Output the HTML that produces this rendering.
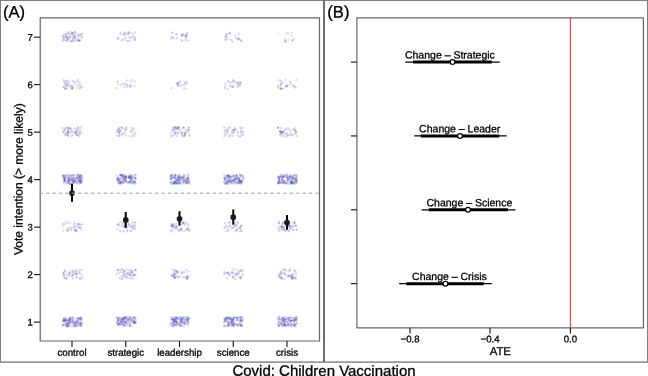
<!DOCTYPE html>
<html><head><meta charset="utf-8"><title>Covid: Children Vaccination</title>
<style>
html,body{margin:0;padding:0;background:#fff;}
body{width:648px;height:376px;overflow:hidden;font-family:"Liberation Sans", sans-serif;}
svg{display:block;filter:blur(0.4px);}
svg text{font-family:"Liberation Sans", sans-serif;fill:#000;stroke:#000;stroke-width:0.3px;}
</style></head><body>
<svg width="648" height="376" viewBox="0 0 648 376">
<rect x="0" y="0" width="648" height="376" fill="#fff"/>

<g fill="#808080">
<rect x="0" y="0" width="648" height="1"/>
<rect x="0" y="0" width="1" height="362"/>
<rect x="647" y="0" width="1" height="362"/>
<rect x="0" y="361.4" width="648" height="1.4"/>
<rect x="323" y="0" width="2" height="362" fill="#6e6e6e"/>
</g>
<text transform="translate(3.0,17.55) rotate(0.1)" font-size="16.6">(A)</text>
<defs><filter id="bl" x="-5%" y="-5%" width="110%" height="110%"><feGaussianBlur stdDeviation="0.6"/></filter></defs>
<g fill="#3838a8" fill-opacity="0.2" filter="url(#bl)">
<circle cx="74.8" cy="38.5" r="1.1"/><circle cx="80.1" cy="35.0" r="1.1"/><circle cx="77.7" cy="40.5" r="1.1"/><circle cx="67.1" cy="38.4" r="1.1"/><circle cx="68.5" cy="33.3" r="1.1"/><circle cx="79.6" cy="40.2" r="1.1"/><circle cx="62.8" cy="41.1" r="1.1"/><circle cx="78.6" cy="40.7" r="1.1"/><circle cx="78.2" cy="37.5" r="1.1"/><circle cx="71.8" cy="33.5" r="1.1"/><circle cx="68.6" cy="33.9" r="1.1"/><circle cx="68.1" cy="41.0" r="1.1"/><circle cx="67.6" cy="37.4" r="1.1"/><circle cx="71.3" cy="33.8" r="1.1"/><circle cx="72.5" cy="40.6" r="1.1"/><circle cx="73.4" cy="38.2" r="1.1"/><circle cx="82.0" cy="37.5" r="1.1"/><circle cx="78.1" cy="35.7" r="1.1"/><circle cx="74.8" cy="36.0" r="1.1"/><circle cx="81.9" cy="34.4" r="1.1"/><circle cx="66.9" cy="32.4" r="1.1"/><circle cx="65.8" cy="40.5" r="1.1"/><circle cx="74.6" cy="36.6" r="1.1"/><circle cx="63.6" cy="37.3" r="1.1"/><circle cx="63.4" cy="35.2" r="1.1"/><circle cx="72.7" cy="39.3" r="1.1"/><circle cx="71.7" cy="32.3" r="1.1"/><circle cx="80.5" cy="35.6" r="1.1"/><circle cx="74.9" cy="32.4" r="1.1"/><circle cx="72.7" cy="33.2" r="1.1"/><circle cx="72.3" cy="41.4" r="1.1"/><circle cx="67.5" cy="38.4" r="1.1"/><circle cx="62.9" cy="36.2" r="1.1"/><circle cx="66.4" cy="37.1" r="1.1"/><circle cx="76.1" cy="40.4" r="1.1"/><circle cx="66.6" cy="35.4" r="1.1"/><circle cx="69.9" cy="37.7" r="1.1"/><circle cx="62.8" cy="38.6" r="1.1"/><circle cx="78.8" cy="35.5" r="1.1"/><circle cx="65.7" cy="37.1" r="1.1"/><circle cx="67.9" cy="39.4" r="1.1"/><circle cx="79.8" cy="40.8" r="1.1"/><circle cx="72.6" cy="33.5" r="1.1"/><circle cx="79.1" cy="41.0" r="1.1"/><circle cx="75.1" cy="32.1" r="1.1"/><circle cx="77.1" cy="39.3" r="1.1"/><circle cx="64.5" cy="39.8" r="1.1"/><circle cx="73.2" cy="33.4" r="1.1"/><circle cx="72.6" cy="36.1" r="1.1"/><circle cx="79.6" cy="39.9" r="1.1"/><circle cx="69.7" cy="32.2" r="1.1"/><circle cx="74.3" cy="38.1" r="1.1"/><circle cx="63.8" cy="39.7" r="1.1"/><circle cx="70.2" cy="37.0" r="1.1"/><circle cx="69.0" cy="39.0" r="1.1"/><circle cx="65.6" cy="34.2" r="1.1"/><circle cx="78.5" cy="34.0" r="1.1"/><circle cx="70.1" cy="35.6" r="1.1"/><circle cx="81.7" cy="33.8" r="1.1"/><circle cx="74.1" cy="35.4" r="1.1"/><circle cx="74.4" cy="41.2" r="1.1"/><circle cx="75.1" cy="37.6" r="1.1"/><circle cx="75.8" cy="35.3" r="1.1"/><circle cx="65.6" cy="34.7" r="1.1"/><circle cx="71.2" cy="41.2" r="1.1"/><circle cx="67.3" cy="36.3" r="1.1"/><circle cx="70.5" cy="41.5" r="1.1"/><circle cx="64.6" cy="37.0" r="1.1"/><circle cx="81.5" cy="37.1" r="1.1"/><circle cx="66.9" cy="40.7" r="1.1"/><circle cx="130.9" cy="38.2" r="1.1"/><circle cx="127.7" cy="33.8" r="1.1"/><circle cx="124.7" cy="32.7" r="1.1"/><circle cx="133.5" cy="36.0" r="1.1"/><circle cx="124.4" cy="39.4" r="1.1"/><circle cx="134.4" cy="39.9" r="1.1"/><circle cx="117.8" cy="39.1" r="1.1"/><circle cx="124.8" cy="33.2" r="1.1"/><circle cx="126.5" cy="40.8" r="1.1"/><circle cx="134.9" cy="39.8" r="1.1"/><circle cx="121.3" cy="40.5" r="1.1"/><circle cx="132.1" cy="37.1" r="1.1"/><circle cx="129.6" cy="40.9" r="1.1"/><circle cx="130.4" cy="32.5" r="1.1"/><circle cx="128.7" cy="32.4" r="1.1"/><circle cx="135.3" cy="32.3" r="1.1"/><circle cx="122.9" cy="34.5" r="1.1"/><circle cx="124.2" cy="34.5" r="1.1"/><circle cx="120.4" cy="33.9" r="1.1"/><circle cx="117.4" cy="37.5" r="1.1"/><circle cx="120.6" cy="32.4" r="1.1"/><circle cx="134.2" cy="37.7" r="1.1"/><circle cx="132.7" cy="33.7" r="1.1"/><circle cx="118.6" cy="38.6" r="1.1"/><circle cx="128.2" cy="32.3" r="1.1"/><circle cx="125.7" cy="35.0" r="1.1"/><circle cx="128.0" cy="41.1" r="1.1"/><circle cx="129.2" cy="37.2" r="1.1"/><circle cx="122.4" cy="39.9" r="1.1"/><circle cx="135.1" cy="38.4" r="1.1"/><circle cx="125.5" cy="37.9" r="1.1"/><circle cx="128.6" cy="33.9" r="1.1"/><circle cx="181.3" cy="35.2" r="1.1"/><circle cx="171.0" cy="39.0" r="1.1"/><circle cx="185.8" cy="40.4" r="1.1"/><circle cx="188.8" cy="40.6" r="1.1"/><circle cx="186.8" cy="33.6" r="1.1"/><circle cx="171.2" cy="32.3" r="1.1"/><circle cx="176.8" cy="38.3" r="1.1"/><circle cx="176.4" cy="34.1" r="1.1"/><circle cx="172.4" cy="37.5" r="1.1"/><circle cx="182.4" cy="41.1" r="1.1"/><circle cx="185.7" cy="35.7" r="1.1"/><circle cx="176.3" cy="34.5" r="1.1"/><circle cx="186.9" cy="36.5" r="1.1"/><circle cx="185.7" cy="38.4" r="1.1"/><circle cx="172.7" cy="33.0" r="1.1"/><circle cx="185.1" cy="35.7" r="1.1"/><circle cx="187.3" cy="33.4" r="1.1"/><circle cx="174.0" cy="38.4" r="1.1"/><circle cx="181.3" cy="40.0" r="1.1"/><circle cx="182.6" cy="35.7" r="1.1"/><circle cx="182.0" cy="35.6" r="1.1"/><circle cx="172.1" cy="37.2" r="1.1"/><circle cx="183.0" cy="34.1" r="1.1"/><circle cx="182.5" cy="34.4" r="1.1"/><circle cx="186.2" cy="35.2" r="1.1"/><circle cx="185.8" cy="36.5" r="1.1"/><circle cx="225.5" cy="40.0" r="1.1"/><circle cx="238.6" cy="38.5" r="1.1"/><circle cx="235.2" cy="35.6" r="1.1"/><circle cx="229.8" cy="32.7" r="1.1"/><circle cx="225.5" cy="37.0" r="1.1"/><circle cx="238.8" cy="39.3" r="1.1"/><circle cx="226.5" cy="33.9" r="1.1"/><circle cx="226.5" cy="34.6" r="1.1"/><circle cx="226.5" cy="37.2" r="1.1"/><circle cx="225.5" cy="39.3" r="1.1"/><circle cx="241.5" cy="40.7" r="1.1"/><circle cx="229.2" cy="33.3" r="1.1"/><circle cx="229.9" cy="33.8" r="1.1"/><circle cx="240.1" cy="39.7" r="1.1"/><circle cx="236.0" cy="38.3" r="1.1"/><circle cx="227.6" cy="39.0" r="1.1"/><circle cx="232.4" cy="41.6" r="1.1"/><circle cx="241.1" cy="41.1" r="1.1"/><circle cx="231.2" cy="40.2" r="1.1"/><circle cx="237.7" cy="39.5" r="1.1"/><circle cx="225.8" cy="35.9" r="1.1"/><circle cx="238.1" cy="38.2" r="1.1"/><circle cx="239.0" cy="33.8" r="1.1"/><circle cx="292.4" cy="40.0" r="1.1"/><circle cx="292.4" cy="40.9" r="1.1"/><circle cx="291.7" cy="35.8" r="1.1"/><circle cx="286.3" cy="33.4" r="1.1"/><circle cx="285.0" cy="39.4" r="1.1"/><circle cx="285.8" cy="41.6" r="1.1"/><circle cx="278.3" cy="33.5" r="1.1"/><circle cx="294.1" cy="38.9" r="1.1"/><circle cx="288.2" cy="40.0" r="1.1"/><circle cx="285.2" cy="40.9" r="1.1"/><circle cx="288.3" cy="33.3" r="1.1"/><circle cx="291.7" cy="32.9" r="1.1"/><circle cx="285.1" cy="41.6" r="1.1"/><circle cx="65.0" cy="89.0" r="1.1"/><circle cx="66.1" cy="88.6" r="1.1"/><circle cx="73.9" cy="81.8" r="1.1"/><circle cx="71.4" cy="88.9" r="1.1"/><circle cx="77.3" cy="81.6" r="1.1"/><circle cx="66.4" cy="84.4" r="1.1"/><circle cx="80.4" cy="84.3" r="1.1"/><circle cx="66.9" cy="88.3" r="1.1"/><circle cx="77.6" cy="79.9" r="1.1"/><circle cx="64.0" cy="82.6" r="1.1"/><circle cx="71.9" cy="85.3" r="1.1"/><circle cx="63.3" cy="80.2" r="1.1"/><circle cx="68.8" cy="81.8" r="1.1"/><circle cx="68.8" cy="84.0" r="1.1"/><circle cx="76.7" cy="88.0" r="1.1"/><circle cx="71.5" cy="86.9" r="1.1"/><circle cx="63.8" cy="87.5" r="1.1"/><circle cx="82.0" cy="86.9" r="1.1"/><circle cx="79.9" cy="86.3" r="1.1"/><circle cx="80.5" cy="87.7" r="1.1"/><circle cx="67.5" cy="86.1" r="1.1"/><circle cx="70.3" cy="86.6" r="1.1"/><circle cx="67.1" cy="82.5" r="1.1"/><circle cx="65.1" cy="81.2" r="1.1"/><circle cx="63.3" cy="86.8" r="1.1"/><circle cx="72.5" cy="81.1" r="1.1"/><circle cx="65.1" cy="88.4" r="1.1"/><circle cx="66.1" cy="85.3" r="1.1"/><circle cx="79.4" cy="82.7" r="1.1"/><circle cx="72.1" cy="88.5" r="1.1"/><circle cx="66.3" cy="81.0" r="1.1"/><circle cx="75.7" cy="84.5" r="1.1"/><circle cx="67.9" cy="80.4" r="1.1"/><circle cx="72.9" cy="88.8" r="1.1"/><circle cx="68.2" cy="85.1" r="1.1"/><circle cx="72.7" cy="87.3" r="1.1"/><circle cx="74.9" cy="82.3" r="1.1"/><circle cx="73.1" cy="87.3" r="1.1"/><circle cx="70.4" cy="86.3" r="1.1"/><circle cx="78.0" cy="85.7" r="1.1"/><circle cx="79.6" cy="88.7" r="1.1"/><circle cx="66.2" cy="83.7" r="1.1"/><circle cx="65.3" cy="83.5" r="1.1"/><circle cx="64.9" cy="86.2" r="1.1"/><circle cx="132.7" cy="79.9" r="1.1"/><circle cx="123.0" cy="83.9" r="1.1"/><circle cx="129.4" cy="85.6" r="1.1"/><circle cx="120.5" cy="84.8" r="1.1"/><circle cx="127.2" cy="80.3" r="1.1"/><circle cx="131.4" cy="85.2" r="1.1"/><circle cx="117.7" cy="81.7" r="1.1"/><circle cx="130.6" cy="81.4" r="1.1"/><circle cx="116.7" cy="88.0" r="1.1"/><circle cx="135.0" cy="81.5" r="1.1"/><circle cx="125.5" cy="83.9" r="1.1"/><circle cx="124.4" cy="86.8" r="1.1"/><circle cx="130.4" cy="86.3" r="1.1"/><circle cx="126.6" cy="84.9" r="1.1"/><circle cx="130.6" cy="87.3" r="1.1"/><circle cx="118.1" cy="84.0" r="1.1"/><circle cx="127.4" cy="85.5" r="1.1"/><circle cx="127.3" cy="87.4" r="1.1"/><circle cx="134.5" cy="86.1" r="1.1"/><circle cx="182.7" cy="85.1" r="1.1"/><circle cx="178.1" cy="84.9" r="1.1"/><circle cx="181.0" cy="85.9" r="1.1"/><circle cx="177.9" cy="86.1" r="1.1"/><circle cx="184.6" cy="85.2" r="1.1"/><circle cx="177.6" cy="83.6" r="1.1"/><circle cx="179.3" cy="81.3" r="1.1"/><circle cx="184.9" cy="82.4" r="1.1"/><circle cx="180.0" cy="82.4" r="1.1"/><circle cx="176.8" cy="83.7" r="1.1"/><circle cx="186.2" cy="89.1" r="1.1"/><circle cx="177.6" cy="82.9" r="1.1"/><circle cx="186.6" cy="83.8" r="1.1"/><circle cx="185.4" cy="83.1" r="1.1"/><circle cx="178.9" cy="85.1" r="1.1"/><circle cx="184.0" cy="88.7" r="1.1"/><circle cx="170.9" cy="88.1" r="1.1"/><circle cx="177.8" cy="83.2" r="1.1"/><circle cx="186.9" cy="82.1" r="1.1"/><circle cx="241.1" cy="83.2" r="1.1"/><circle cx="233.5" cy="85.7" r="1.1"/><circle cx="237.2" cy="82.0" r="1.1"/><circle cx="225.4" cy="84.1" r="1.1"/><circle cx="240.8" cy="84.6" r="1.1"/><circle cx="230.0" cy="85.6" r="1.1"/><circle cx="233.5" cy="81.5" r="1.1"/><circle cx="227.8" cy="88.8" r="1.1"/><circle cx="232.1" cy="82.3" r="1.1"/><circle cx="240.0" cy="82.5" r="1.1"/><circle cx="240.0" cy="82.0" r="1.1"/><circle cx="233.1" cy="80.2" r="1.1"/><circle cx="238.8" cy="83.6" r="1.1"/><circle cx="232.8" cy="87.0" r="1.1"/><circle cx="231.2" cy="86.4" r="1.1"/><circle cx="234.5" cy="81.4" r="1.1"/><circle cx="227.9" cy="80.9" r="1.1"/><circle cx="230.1" cy="82.6" r="1.1"/><circle cx="237.7" cy="86.9" r="1.1"/><circle cx="238.9" cy="84.2" r="1.1"/><circle cx="225.1" cy="88.4" r="1.1"/><circle cx="238.2" cy="85.9" r="1.1"/><circle cx="239.8" cy="85.5" r="1.1"/><circle cx="232.6" cy="86.9" r="1.1"/><circle cx="225.2" cy="86.8" r="1.1"/><circle cx="237.2" cy="82.9" r="1.1"/><circle cx="228.7" cy="82.0" r="1.1"/><circle cx="236.4" cy="83.8" r="1.1"/><circle cx="287.2" cy="85.9" r="1.1"/><circle cx="280.4" cy="85.3" r="1.1"/><circle cx="286.3" cy="87.0" r="1.1"/><circle cx="290.1" cy="81.6" r="1.1"/><circle cx="280.3" cy="88.7" r="1.1"/><circle cx="280.4" cy="88.1" r="1.1"/><circle cx="281.1" cy="80.7" r="1.1"/><circle cx="283.2" cy="82.6" r="1.1"/><circle cx="296.4" cy="79.9" r="1.1"/><circle cx="278.2" cy="87.5" r="1.1"/><circle cx="281.3" cy="88.3" r="1.1"/><circle cx="280.9" cy="89.1" r="1.1"/><circle cx="286.9" cy="85.4" r="1.1"/><circle cx="278.0" cy="85.9" r="1.1"/><circle cx="286.6" cy="86.1" r="1.1"/><circle cx="280.9" cy="85.0" r="1.1"/><circle cx="282.9" cy="88.7" r="1.1"/><circle cx="293.1" cy="85.4" r="1.1"/><circle cx="281.3" cy="82.8" r="1.1"/><circle cx="289.7" cy="84.5" r="1.1"/><circle cx="285.6" cy="79.7" r="1.1"/><circle cx="285.8" cy="86.5" r="1.1"/><circle cx="293.5" cy="86.2" r="1.1"/><circle cx="280.8" cy="83.6" r="1.1"/><circle cx="295.6" cy="87.7" r="1.1"/><circle cx="295.0" cy="86.8" r="1.1"/><circle cx="290.7" cy="82.8" r="1.1"/><circle cx="278.7" cy="80.3" r="1.1"/><circle cx="65.3" cy="128.7" r="1.1"/><circle cx="66.3" cy="127.6" r="1.1"/><circle cx="68.6" cy="131.5" r="1.1"/><circle cx="71.4" cy="129.1" r="1.1"/><circle cx="80.7" cy="134.1" r="1.1"/><circle cx="68.1" cy="135.9" r="1.1"/><circle cx="80.1" cy="129.7" r="1.1"/><circle cx="75.9" cy="132.5" r="1.1"/><circle cx="79.3" cy="131.9" r="1.1"/><circle cx="70.5" cy="127.8" r="1.1"/><circle cx="62.8" cy="128.2" r="1.1"/><circle cx="78.0" cy="135.5" r="1.1"/><circle cx="67.5" cy="131.6" r="1.1"/><circle cx="65.5" cy="134.8" r="1.1"/><circle cx="78.2" cy="127.7" r="1.1"/><circle cx="76.0" cy="132.8" r="1.1"/><circle cx="66.8" cy="135.3" r="1.1"/><circle cx="67.9" cy="135.4" r="1.1"/><circle cx="80.9" cy="127.1" r="1.1"/><circle cx="67.9" cy="132.1" r="1.1"/><circle cx="76.3" cy="130.6" r="1.1"/><circle cx="65.2" cy="134.3" r="1.1"/><circle cx="78.5" cy="127.7" r="1.1"/><circle cx="65.0" cy="129.6" r="1.1"/><circle cx="72.7" cy="134.8" r="1.1"/><circle cx="63.4" cy="131.5" r="1.1"/><circle cx="73.4" cy="131.4" r="1.1"/><circle cx="79.1" cy="136.3" r="1.1"/><circle cx="64.3" cy="130.1" r="1.1"/><circle cx="68.0" cy="127.4" r="1.1"/><circle cx="77.5" cy="130.8" r="1.1"/><circle cx="74.5" cy="128.5" r="1.1"/><circle cx="68.8" cy="127.8" r="1.1"/><circle cx="74.9" cy="132.5" r="1.1"/><circle cx="71.5" cy="136.2" r="1.1"/><circle cx="79.4" cy="132.6" r="1.1"/><circle cx="68.4" cy="133.3" r="1.1"/><circle cx="77.4" cy="130.1" r="1.1"/><circle cx="75.0" cy="132.5" r="1.1"/><circle cx="77.1" cy="134.3" r="1.1"/><circle cx="70.0" cy="132.7" r="1.1"/><circle cx="76.8" cy="134.7" r="1.1"/><circle cx="76.2" cy="132.3" r="1.1"/><circle cx="70.2" cy="128.9" r="1.1"/><circle cx="63.2" cy="132.6" r="1.1"/><circle cx="81.4" cy="131.8" r="1.1"/><circle cx="76.5" cy="128.6" r="1.1"/><circle cx="66.7" cy="133.0" r="1.1"/><circle cx="76.9" cy="134.9" r="1.1"/><circle cx="68.1" cy="128.3" r="1.1"/><circle cx="71.8" cy="132.3" r="1.1"/><circle cx="79.4" cy="134.1" r="1.1"/><circle cx="71.4" cy="130.9" r="1.1"/><circle cx="68.3" cy="129.6" r="1.1"/><circle cx="68.6" cy="130.6" r="1.1"/><circle cx="64.2" cy="132.2" r="1.1"/><circle cx="67.0" cy="133.6" r="1.1"/><circle cx="68.0" cy="132.4" r="1.1"/><circle cx="118.5" cy="131.5" r="1.1"/><circle cx="132.3" cy="130.5" r="1.1"/><circle cx="134.4" cy="132.7" r="1.1"/><circle cx="118.4" cy="129.7" r="1.1"/><circle cx="121.3" cy="127.4" r="1.1"/><circle cx="119.8" cy="130.2" r="1.1"/><circle cx="132.9" cy="134.3" r="1.1"/><circle cx="134.1" cy="129.5" r="1.1"/><circle cx="117.3" cy="130.9" r="1.1"/><circle cx="122.9" cy="134.3" r="1.1"/><circle cx="120.2" cy="130.9" r="1.1"/><circle cx="125.6" cy="135.6" r="1.1"/><circle cx="134.3" cy="135.9" r="1.1"/><circle cx="117.8" cy="130.0" r="1.1"/><circle cx="119.8" cy="134.1" r="1.1"/><circle cx="125.9" cy="129.5" r="1.1"/><circle cx="126.6" cy="128.4" r="1.1"/><circle cx="130.9" cy="131.2" r="1.1"/><circle cx="124.9" cy="132.8" r="1.1"/><circle cx="119.2" cy="136.0" r="1.1"/><circle cx="123.3" cy="128.4" r="1.1"/><circle cx="135.5" cy="133.9" r="1.1"/><circle cx="131.0" cy="131.6" r="1.1"/><circle cx="118.7" cy="128.3" r="1.1"/><circle cx="132.1" cy="136.4" r="1.1"/><circle cx="122.5" cy="133.7" r="1.1"/><circle cx="131.6" cy="128.3" r="1.1"/><circle cx="116.7" cy="135.7" r="1.1"/><circle cx="133.4" cy="128.0" r="1.1"/><circle cx="119.6" cy="127.9" r="1.1"/><circle cx="125.3" cy="130.2" r="1.1"/><circle cx="129.3" cy="136.0" r="1.1"/><circle cx="126.3" cy="127.4" r="1.1"/><circle cx="119.7" cy="135.9" r="1.1"/><circle cx="119.1" cy="132.9" r="1.1"/><circle cx="122.0" cy="127.7" r="1.1"/><circle cx="117.5" cy="132.5" r="1.1"/><circle cx="120.7" cy="131.4" r="1.1"/><circle cx="119.0" cy="132.5" r="1.1"/><circle cx="184.5" cy="132.9" r="1.1"/><circle cx="183.4" cy="136.6" r="1.1"/><circle cx="189.5" cy="136.2" r="1.1"/><circle cx="173.2" cy="127.4" r="1.1"/><circle cx="186.0" cy="132.0" r="1.1"/><circle cx="178.2" cy="132.8" r="1.1"/><circle cx="185.4" cy="133.8" r="1.1"/><circle cx="187.5" cy="130.3" r="1.1"/><circle cx="189.4" cy="130.2" r="1.1"/><circle cx="175.4" cy="127.1" r="1.1"/><circle cx="179.0" cy="127.4" r="1.1"/><circle cx="188.5" cy="132.3" r="1.1"/><circle cx="188.5" cy="127.8" r="1.1"/><circle cx="177.4" cy="129.0" r="1.1"/><circle cx="188.4" cy="130.2" r="1.1"/><circle cx="178.1" cy="127.7" r="1.1"/><circle cx="177.5" cy="127.3" r="1.1"/><circle cx="184.9" cy="135.9" r="1.1"/><circle cx="179.3" cy="131.2" r="1.1"/><circle cx="178.9" cy="129.0" r="1.1"/><circle cx="177.7" cy="133.8" r="1.1"/><circle cx="178.6" cy="127.1" r="1.1"/><circle cx="172.9" cy="129.4" r="1.1"/><circle cx="171.4" cy="136.3" r="1.1"/><circle cx="184.8" cy="135.7" r="1.1"/><circle cx="181.2" cy="133.1" r="1.1"/><circle cx="183.2" cy="127.9" r="1.1"/><circle cx="185.8" cy="130.1" r="1.1"/><circle cx="174.7" cy="127.3" r="1.1"/><circle cx="174.7" cy="129.1" r="1.1"/><circle cx="175.6" cy="127.3" r="1.1"/><circle cx="176.1" cy="128.3" r="1.1"/><circle cx="185.0" cy="133.1" r="1.1"/><circle cx="177.5" cy="128.0" r="1.1"/><circle cx="176.5" cy="128.5" r="1.1"/><circle cx="182.5" cy="135.7" r="1.1"/><circle cx="173.8" cy="130.3" r="1.1"/><circle cx="172.3" cy="130.2" r="1.1"/><circle cx="183.7" cy="127.9" r="1.1"/><circle cx="184.9" cy="134.7" r="1.1"/><circle cx="175.9" cy="133.5" r="1.1"/><circle cx="182.5" cy="132.3" r="1.1"/><circle cx="170.9" cy="133.0" r="1.1"/><circle cx="178.0" cy="128.0" r="1.1"/><circle cx="181.4" cy="129.5" r="1.1"/><circle cx="175.1" cy="132.6" r="1.1"/><circle cx="177.0" cy="136.2" r="1.1"/><circle cx="182.0" cy="134.9" r="1.1"/><circle cx="181.6" cy="133.2" r="1.1"/><circle cx="173.2" cy="132.0" r="1.1"/><circle cx="183.9" cy="127.2" r="1.1"/><circle cx="171.8" cy="135.6" r="1.1"/><circle cx="189.0" cy="127.7" r="1.1"/><circle cx="174.1" cy="128.3" r="1.1"/><circle cx="175.1" cy="133.7" r="1.1"/><circle cx="174.1" cy="134.8" r="1.1"/><circle cx="189.4" cy="134.6" r="1.1"/><circle cx="175.8" cy="131.4" r="1.1"/><circle cx="227.4" cy="128.9" r="1.1"/><circle cx="224.6" cy="131.6" r="1.1"/><circle cx="240.5" cy="136.4" r="1.1"/><circle cx="242.9" cy="132.2" r="1.1"/><circle cx="228.7" cy="127.6" r="1.1"/><circle cx="240.8" cy="131.2" r="1.1"/><circle cx="231.8" cy="133.4" r="1.1"/><circle cx="230.0" cy="127.6" r="1.1"/><circle cx="233.7" cy="129.5" r="1.1"/><circle cx="224.1" cy="127.2" r="1.1"/><circle cx="232.5" cy="132.2" r="1.1"/><circle cx="227.8" cy="130.7" r="1.1"/><circle cx="237.8" cy="131.9" r="1.1"/><circle cx="233.7" cy="129.9" r="1.1"/><circle cx="240.8" cy="133.3" r="1.1"/><circle cx="241.3" cy="128.7" r="1.1"/><circle cx="230.1" cy="135.7" r="1.1"/><circle cx="229.4" cy="136.3" r="1.1"/><circle cx="242.2" cy="131.8" r="1.1"/><circle cx="233.7" cy="131.5" r="1.1"/><circle cx="225.8" cy="135.3" r="1.1"/><circle cx="224.8" cy="129.8" r="1.1"/><circle cx="243.2" cy="134.8" r="1.1"/><circle cx="235.2" cy="129.8" r="1.1"/><circle cx="225.0" cy="134.0" r="1.1"/><circle cx="233.9" cy="130.2" r="1.1"/><circle cx="233.7" cy="132.8" r="1.1"/><circle cx="232.4" cy="135.9" r="1.1"/><circle cx="242.4" cy="127.6" r="1.1"/><circle cx="242.4" cy="134.8" r="1.1"/><circle cx="226.4" cy="132.2" r="1.1"/><circle cx="226.9" cy="130.7" r="1.1"/><circle cx="231.9" cy="130.4" r="1.1"/><circle cx="240.1" cy="127.7" r="1.1"/><circle cx="236.1" cy="129.5" r="1.1"/><circle cx="238.1" cy="133.0" r="1.1"/><circle cx="235.1" cy="128.0" r="1.1"/><circle cx="228.0" cy="133.5" r="1.1"/><circle cx="239.8" cy="136.3" r="1.1"/><circle cx="224.2" cy="136.5" r="1.1"/><circle cx="237.5" cy="135.6" r="1.1"/><circle cx="293.3" cy="129.1" r="1.1"/><circle cx="281.2" cy="127.9" r="1.1"/><circle cx="296.5" cy="131.6" r="1.1"/><circle cx="281.6" cy="132.7" r="1.1"/><circle cx="294.6" cy="130.1" r="1.1"/><circle cx="294.7" cy="128.1" r="1.1"/><circle cx="289.8" cy="134.8" r="1.1"/><circle cx="287.8" cy="134.8" r="1.1"/><circle cx="281.6" cy="132.4" r="1.1"/><circle cx="287.8" cy="128.4" r="1.1"/><circle cx="283.3" cy="132.2" r="1.1"/><circle cx="280.1" cy="133.1" r="1.1"/><circle cx="280.2" cy="131.2" r="1.1"/><circle cx="293.2" cy="135.3" r="1.1"/><circle cx="295.6" cy="130.8" r="1.1"/><circle cx="280.5" cy="131.9" r="1.1"/><circle cx="278.0" cy="128.1" r="1.1"/><circle cx="282.8" cy="132.5" r="1.1"/><circle cx="280.3" cy="134.4" r="1.1"/><circle cx="281.4" cy="134.1" r="1.1"/><circle cx="289.0" cy="129.5" r="1.1"/><circle cx="285.9" cy="136.6" r="1.1"/><circle cx="286.0" cy="134.0" r="1.1"/><circle cx="281.7" cy="131.1" r="1.1"/><circle cx="290.6" cy="131.0" r="1.1"/><circle cx="283.3" cy="134.5" r="1.1"/><circle cx="285.4" cy="128.7" r="1.1"/><circle cx="286.7" cy="133.2" r="1.1"/><circle cx="295.2" cy="133.9" r="1.1"/><circle cx="282.5" cy="132.0" r="1.1"/><circle cx="291.6" cy="135.4" r="1.1"/><circle cx="283.7" cy="131.5" r="1.1"/><circle cx="295.1" cy="131.5" r="1.1"/><circle cx="285.3" cy="129.8" r="1.1"/><circle cx="287.5" cy="135.9" r="1.1"/><circle cx="294.7" cy="130.1" r="1.1"/><circle cx="290.8" cy="133.7" r="1.1"/><circle cx="279.5" cy="131.0" r="1.1"/><circle cx="280.4" cy="136.0" r="1.1"/><circle cx="296.9" cy="136.1" r="1.1"/><circle cx="278.3" cy="127.3" r="1.1"/><circle cx="283.5" cy="136.6" r="1.1"/><circle cx="296.3" cy="132.8" r="1.1"/><circle cx="278.0" cy="127.8" r="1.1"/><circle cx="280.8" cy="131.8" r="1.1"/><circle cx="63.7" cy="177.7" r="1.1"/><circle cx="73.3" cy="175.7" r="1.1"/><circle cx="66.3" cy="183.3" r="1.1"/><circle cx="69.8" cy="176.3" r="1.1"/><circle cx="68.6" cy="174.6" r="1.1"/><circle cx="74.4" cy="183.1" r="1.1"/><circle cx="78.7" cy="180.3" r="1.1"/><circle cx="80.9" cy="181.0" r="1.1"/><circle cx="69.1" cy="181.6" r="1.1"/><circle cx="73.8" cy="174.9" r="1.1"/><circle cx="62.8" cy="175.4" r="1.1"/><circle cx="69.9" cy="179.3" r="1.1"/><circle cx="81.3" cy="175.0" r="1.1"/><circle cx="65.0" cy="179.4" r="1.1"/><circle cx="79.6" cy="181.6" r="1.1"/><circle cx="75.4" cy="180.8" r="1.1"/><circle cx="68.4" cy="180.4" r="1.1"/><circle cx="77.8" cy="175.0" r="1.1"/><circle cx="68.3" cy="176.8" r="1.1"/><circle cx="80.1" cy="183.1" r="1.1"/><circle cx="64.3" cy="175.7" r="1.1"/><circle cx="65.0" cy="179.6" r="1.1"/><circle cx="77.3" cy="175.0" r="1.1"/><circle cx="71.4" cy="183.5" r="1.1"/><circle cx="65.6" cy="176.2" r="1.1"/><circle cx="72.7" cy="178.5" r="1.1"/><circle cx="68.5" cy="179.8" r="1.1"/><circle cx="73.4" cy="181.4" r="1.1"/><circle cx="77.1" cy="183.5" r="1.1"/><circle cx="79.3" cy="181.6" r="1.1"/><circle cx="63.8" cy="177.9" r="1.1"/><circle cx="74.2" cy="175.3" r="1.1"/><circle cx="81.8" cy="181.3" r="1.1"/><circle cx="71.6" cy="183.9" r="1.1"/><circle cx="77.6" cy="174.7" r="1.1"/><circle cx="64.6" cy="182.0" r="1.1"/><circle cx="79.6" cy="176.2" r="1.1"/><circle cx="74.0" cy="178.9" r="1.1"/><circle cx="79.9" cy="179.5" r="1.1"/><circle cx="78.0" cy="180.4" r="1.1"/><circle cx="79.6" cy="184.0" r="1.1"/><circle cx="63.8" cy="181.1" r="1.1"/><circle cx="76.6" cy="178.3" r="1.1"/><circle cx="66.5" cy="181.4" r="1.1"/><circle cx="67.9" cy="179.0" r="1.1"/><circle cx="69.0" cy="178.5" r="1.1"/><circle cx="74.2" cy="178.0" r="1.1"/><circle cx="74.9" cy="179.3" r="1.1"/><circle cx="80.8" cy="177.2" r="1.1"/><circle cx="62.9" cy="176.9" r="1.1"/><circle cx="66.5" cy="176.0" r="1.1"/><circle cx="69.7" cy="178.8" r="1.1"/><circle cx="78.6" cy="177.3" r="1.1"/><circle cx="73.4" cy="182.6" r="1.1"/><circle cx="72.6" cy="182.7" r="1.1"/><circle cx="77.4" cy="177.8" r="1.1"/><circle cx="75.4" cy="180.5" r="1.1"/><circle cx="68.3" cy="183.2" r="1.1"/><circle cx="64.4" cy="178.0" r="1.1"/><circle cx="71.7" cy="179.9" r="1.1"/><circle cx="79.8" cy="178.8" r="1.1"/><circle cx="74.3" cy="180.8" r="1.1"/><circle cx="63.7" cy="183.7" r="1.1"/><circle cx="71.2" cy="175.9" r="1.1"/><circle cx="70.2" cy="183.8" r="1.1"/><circle cx="74.0" cy="180.9" r="1.1"/><circle cx="74.1" cy="182.2" r="1.1"/><circle cx="81.2" cy="180.6" r="1.1"/><circle cx="69.3" cy="182.9" r="1.1"/><circle cx="70.6" cy="177.7" r="1.1"/><circle cx="74.6" cy="181.3" r="1.1"/><circle cx="79.9" cy="177.1" r="1.1"/><circle cx="76.4" cy="179.4" r="1.1"/><circle cx="71.8" cy="181.1" r="1.1"/><circle cx="78.5" cy="176.5" r="1.1"/><circle cx="72.1" cy="175.1" r="1.1"/><circle cx="81.4" cy="182.1" r="1.1"/><circle cx="68.2" cy="182.3" r="1.1"/><circle cx="65.2" cy="180.9" r="1.1"/><circle cx="78.8" cy="177.6" r="1.1"/><circle cx="68.5" cy="180.8" r="1.1"/><circle cx="79.1" cy="175.3" r="1.1"/><circle cx="74.5" cy="180.9" r="1.1"/><circle cx="72.6" cy="180.1" r="1.1"/><circle cx="64.4" cy="180.5" r="1.1"/><circle cx="78.0" cy="178.8" r="1.1"/><circle cx="64.0" cy="176.7" r="1.1"/><circle cx="81.4" cy="181.5" r="1.1"/><circle cx="79.7" cy="179.0" r="1.1"/><circle cx="68.6" cy="181.7" r="1.1"/><circle cx="65.2" cy="178.0" r="1.1"/><circle cx="79.9" cy="175.4" r="1.1"/><circle cx="72.0" cy="179.7" r="1.1"/><circle cx="65.1" cy="180.5" r="1.1"/><circle cx="72.4" cy="183.4" r="1.1"/><circle cx="67.5" cy="183.1" r="1.1"/><circle cx="70.6" cy="175.1" r="1.1"/><circle cx="75.1" cy="181.9" r="1.1"/><circle cx="80.5" cy="177.0" r="1.1"/><circle cx="78.2" cy="181.2" r="1.1"/><circle cx="65.8" cy="178.2" r="1.1"/><circle cx="72.0" cy="177.6" r="1.1"/><circle cx="72.2" cy="179.2" r="1.1"/><circle cx="81.9" cy="179.6" r="1.1"/><circle cx="64.4" cy="181.2" r="1.1"/><circle cx="72.6" cy="180.7" r="1.1"/><circle cx="80.4" cy="181.0" r="1.1"/><circle cx="70.4" cy="178.2" r="1.1"/><circle cx="67.8" cy="181.0" r="1.1"/><circle cx="73.5" cy="177.8" r="1.1"/><circle cx="68.9" cy="180.4" r="1.1"/><circle cx="80.7" cy="178.9" r="1.1"/><circle cx="64.3" cy="179.9" r="1.1"/><circle cx="66.7" cy="174.7" r="1.1"/><circle cx="64.3" cy="179.3" r="1.1"/><circle cx="76.5" cy="176.6" r="1.1"/><circle cx="68.4" cy="178.2" r="1.1"/><circle cx="80.2" cy="175.2" r="1.1"/><circle cx="80.0" cy="180.8" r="1.1"/><circle cx="80.9" cy="183.1" r="1.1"/><circle cx="67.7" cy="177.9" r="1.1"/><circle cx="62.7" cy="175.5" r="1.1"/><circle cx="70.2" cy="180.5" r="1.1"/><circle cx="81.4" cy="175.7" r="1.1"/><circle cx="77.5" cy="183.1" r="1.1"/><circle cx="63.9" cy="175.7" r="1.1"/><circle cx="76.3" cy="178.0" r="1.1"/><circle cx="80.5" cy="179.3" r="1.1"/><circle cx="81.5" cy="175.7" r="1.1"/><circle cx="76.6" cy="177.6" r="1.1"/><circle cx="79.4" cy="177.2" r="1.1"/><circle cx="79.0" cy="181.4" r="1.1"/><circle cx="69.7" cy="184.0" r="1.1"/><circle cx="64.6" cy="178.0" r="1.1"/><circle cx="76.8" cy="182.1" r="1.1"/><circle cx="65.4" cy="175.9" r="1.1"/><circle cx="70.2" cy="180.1" r="1.1"/><circle cx="82.0" cy="178.7" r="1.1"/><circle cx="73.6" cy="177.3" r="1.1"/><circle cx="72.8" cy="182.4" r="1.1"/><circle cx="81.1" cy="181.7" r="1.1"/><circle cx="68.2" cy="175.8" r="1.1"/><circle cx="82.1" cy="177.3" r="1.1"/><circle cx="80.4" cy="182.4" r="1.1"/><circle cx="69.8" cy="184.1" r="1.1"/><circle cx="128.3" cy="177.4" r="1.1"/><circle cx="133.4" cy="182.2" r="1.1"/><circle cx="135.5" cy="183.4" r="1.1"/><circle cx="130.8" cy="180.2" r="1.1"/><circle cx="129.0" cy="177.9" r="1.1"/><circle cx="120.7" cy="177.9" r="1.1"/><circle cx="123.6" cy="180.6" r="1.1"/><circle cx="128.5" cy="182.8" r="1.1"/><circle cx="134.4" cy="177.8" r="1.1"/><circle cx="122.3" cy="176.4" r="1.1"/><circle cx="124.1" cy="174.6" r="1.1"/><circle cx="116.9" cy="175.8" r="1.1"/><circle cx="130.0" cy="182.7" r="1.1"/><circle cx="125.1" cy="180.5" r="1.1"/><circle cx="131.9" cy="184.0" r="1.1"/><circle cx="121.0" cy="175.2" r="1.1"/><circle cx="129.2" cy="178.0" r="1.1"/><circle cx="129.5" cy="182.2" r="1.1"/><circle cx="125.5" cy="180.9" r="1.1"/><circle cx="120.1" cy="175.2" r="1.1"/><circle cx="124.3" cy="178.4" r="1.1"/><circle cx="130.9" cy="180.7" r="1.1"/><circle cx="120.1" cy="181.1" r="1.1"/><circle cx="118.2" cy="178.9" r="1.1"/><circle cx="125.4" cy="176.3" r="1.1"/><circle cx="121.0" cy="183.8" r="1.1"/><circle cx="132.0" cy="179.0" r="1.1"/><circle cx="132.3" cy="181.4" r="1.1"/><circle cx="134.8" cy="179.7" r="1.1"/><circle cx="132.7" cy="175.3" r="1.1"/><circle cx="129.0" cy="176.8" r="1.1"/><circle cx="120.1" cy="175.1" r="1.1"/><circle cx="132.4" cy="176.4" r="1.1"/><circle cx="130.6" cy="176.5" r="1.1"/><circle cx="130.9" cy="178.5" r="1.1"/><circle cx="130.0" cy="177.6" r="1.1"/><circle cx="132.6" cy="178.0" r="1.1"/><circle cx="122.2" cy="182.4" r="1.1"/><circle cx="129.5" cy="174.7" r="1.1"/><circle cx="126.5" cy="175.5" r="1.1"/><circle cx="123.0" cy="182.3" r="1.1"/><circle cx="122.8" cy="179.7" r="1.1"/><circle cx="119.5" cy="178.7" r="1.1"/><circle cx="126.0" cy="177.1" r="1.1"/><circle cx="123.6" cy="179.7" r="1.1"/><circle cx="124.6" cy="176.7" r="1.1"/><circle cx="133.0" cy="182.8" r="1.1"/><circle cx="129.7" cy="182.4" r="1.1"/><circle cx="129.6" cy="177.6" r="1.1"/><circle cx="135.5" cy="174.8" r="1.1"/><circle cx="120.7" cy="183.1" r="1.1"/><circle cx="126.3" cy="177.4" r="1.1"/><circle cx="118.2" cy="180.8" r="1.1"/><circle cx="124.1" cy="182.8" r="1.1"/><circle cx="134.9" cy="182.2" r="1.1"/><circle cx="118.1" cy="182.8" r="1.1"/><circle cx="131.1" cy="179.2" r="1.1"/><circle cx="133.2" cy="182.6" r="1.1"/><circle cx="126.3" cy="179.0" r="1.1"/><circle cx="131.9" cy="177.1" r="1.1"/><circle cx="125.0" cy="179.1" r="1.1"/><circle cx="123.3" cy="177.7" r="1.1"/><circle cx="126.3" cy="181.9" r="1.1"/><circle cx="120.2" cy="182.5" r="1.1"/><circle cx="122.4" cy="175.9" r="1.1"/><circle cx="122.4" cy="176.1" r="1.1"/><circle cx="135.6" cy="178.2" r="1.1"/><circle cx="123.0" cy="179.0" r="1.1"/><circle cx="120.9" cy="183.7" r="1.1"/><circle cx="134.7" cy="183.6" r="1.1"/><circle cx="119.1" cy="183.8" r="1.1"/><circle cx="135.2" cy="181.5" r="1.1"/><circle cx="133.0" cy="181.0" r="1.1"/><circle cx="129.0" cy="177.1" r="1.1"/><circle cx="124.7" cy="178.1" r="1.1"/><circle cx="120.3" cy="174.6" r="1.1"/><circle cx="118.5" cy="182.5" r="1.1"/><circle cx="118.5" cy="177.2" r="1.1"/><circle cx="123.2" cy="175.3" r="1.1"/><circle cx="124.3" cy="177.6" r="1.1"/><circle cx="134.4" cy="177.6" r="1.1"/><circle cx="126.9" cy="181.5" r="1.1"/><circle cx="135.7" cy="174.6" r="1.1"/><circle cx="130.4" cy="176.7" r="1.1"/><circle cx="119.3" cy="183.1" r="1.1"/><circle cx="127.2" cy="182.7" r="1.1"/><circle cx="119.5" cy="180.6" r="1.1"/><circle cx="117.2" cy="179.9" r="1.1"/><circle cx="134.8" cy="176.7" r="1.1"/><circle cx="123.0" cy="182.9" r="1.1"/><circle cx="120.1" cy="181.8" r="1.1"/><circle cx="118.4" cy="179.5" r="1.1"/><circle cx="129.1" cy="176.1" r="1.1"/><circle cx="125.4" cy="176.6" r="1.1"/><circle cx="116.7" cy="178.2" r="1.1"/><circle cx="130.3" cy="177.7" r="1.1"/><circle cx="121.4" cy="175.1" r="1.1"/><circle cx="131.6" cy="178.4" r="1.1"/><circle cx="125.9" cy="178.8" r="1.1"/><circle cx="126.8" cy="177.3" r="1.1"/><circle cx="125.3" cy="178.2" r="1.1"/><circle cx="129.6" cy="177.7" r="1.1"/><circle cx="135.7" cy="178.1" r="1.1"/><circle cx="131.9" cy="180.5" r="1.1"/><circle cx="117.8" cy="179.3" r="1.1"/><circle cx="126.0" cy="176.4" r="1.1"/><circle cx="121.0" cy="182.2" r="1.1"/><circle cx="118.4" cy="179.5" r="1.1"/><circle cx="120.2" cy="178.9" r="1.1"/><circle cx="121.3" cy="181.4" r="1.1"/><circle cx="135.1" cy="181.7" r="1.1"/><circle cx="130.9" cy="182.7" r="1.1"/><circle cx="133.0" cy="182.3" r="1.1"/><circle cx="130.0" cy="181.0" r="1.1"/><circle cx="122.6" cy="181.5" r="1.1"/><circle cx="124.0" cy="176.0" r="1.1"/><circle cx="125.0" cy="181.2" r="1.1"/><circle cx="122.1" cy="177.0" r="1.1"/><circle cx="124.6" cy="177.0" r="1.1"/><circle cx="131.4" cy="175.7" r="1.1"/><circle cx="117.9" cy="178.3" r="1.1"/><circle cx="121.8" cy="174.7" r="1.1"/><circle cx="125.7" cy="180.8" r="1.1"/><circle cx="129.6" cy="181.7" r="1.1"/><circle cx="129.0" cy="182.0" r="1.1"/><circle cx="130.5" cy="175.8" r="1.1"/><circle cx="118.5" cy="180.7" r="1.1"/><circle cx="120.0" cy="182.6" r="1.1"/><circle cx="122.4" cy="174.9" r="1.1"/><circle cx="121.9" cy="176.4" r="1.1"/><circle cx="131.1" cy="177.1" r="1.1"/><circle cx="135.7" cy="179.0" r="1.1"/><circle cx="129.7" cy="176.2" r="1.1"/><circle cx="117.1" cy="179.7" r="1.1"/><circle cx="176.9" cy="183.4" r="1.1"/><circle cx="182.9" cy="177.8" r="1.1"/><circle cx="180.5" cy="176.4" r="1.1"/><circle cx="183.5" cy="174.9" r="1.1"/><circle cx="175.0" cy="177.8" r="1.1"/><circle cx="183.9" cy="184.0" r="1.1"/><circle cx="184.5" cy="176.6" r="1.1"/><circle cx="184.2" cy="178.9" r="1.1"/><circle cx="171.5" cy="183.9" r="1.1"/><circle cx="188.6" cy="174.6" r="1.1"/><circle cx="181.4" cy="177.4" r="1.1"/><circle cx="175.5" cy="182.4" r="1.1"/><circle cx="178.6" cy="175.4" r="1.1"/><circle cx="180.2" cy="183.4" r="1.1"/><circle cx="180.2" cy="182.5" r="1.1"/><circle cx="175.0" cy="175.9" r="1.1"/><circle cx="175.3" cy="180.2" r="1.1"/><circle cx="177.3" cy="179.9" r="1.1"/><circle cx="185.3" cy="181.2" r="1.1"/><circle cx="178.7" cy="177.5" r="1.1"/><circle cx="170.9" cy="178.2" r="1.1"/><circle cx="179.0" cy="176.8" r="1.1"/><circle cx="174.1" cy="177.3" r="1.1"/><circle cx="170.4" cy="176.2" r="1.1"/><circle cx="189.2" cy="183.2" r="1.1"/><circle cx="175.9" cy="183.0" r="1.1"/><circle cx="180.6" cy="178.0" r="1.1"/><circle cx="177.1" cy="181.2" r="1.1"/><circle cx="171.2" cy="179.2" r="1.1"/><circle cx="187.7" cy="177.2" r="1.1"/><circle cx="188.4" cy="177.9" r="1.1"/><circle cx="173.8" cy="183.8" r="1.1"/><circle cx="178.3" cy="177.8" r="1.1"/><circle cx="177.4" cy="180.1" r="1.1"/><circle cx="173.4" cy="183.6" r="1.1"/><circle cx="183.0" cy="177.4" r="1.1"/><circle cx="185.4" cy="182.3" r="1.1"/><circle cx="184.9" cy="175.6" r="1.1"/><circle cx="183.3" cy="181.6" r="1.1"/><circle cx="170.5" cy="182.3" r="1.1"/><circle cx="174.7" cy="182.6" r="1.1"/><circle cx="180.2" cy="183.9" r="1.1"/><circle cx="183.8" cy="181.4" r="1.1"/><circle cx="177.7" cy="183.9" r="1.1"/><circle cx="178.9" cy="177.2" r="1.1"/><circle cx="186.5" cy="179.5" r="1.1"/><circle cx="170.7" cy="176.6" r="1.1"/><circle cx="175.4" cy="175.3" r="1.1"/><circle cx="175.8" cy="178.7" r="1.1"/><circle cx="189.5" cy="181.4" r="1.1"/><circle cx="174.6" cy="182.0" r="1.1"/><circle cx="171.1" cy="174.7" r="1.1"/><circle cx="178.3" cy="183.6" r="1.1"/><circle cx="182.8" cy="176.9" r="1.1"/><circle cx="173.2" cy="177.3" r="1.1"/><circle cx="186.5" cy="182.5" r="1.1"/><circle cx="174.0" cy="183.1" r="1.1"/><circle cx="183.9" cy="181.6" r="1.1"/><circle cx="173.3" cy="177.7" r="1.1"/><circle cx="187.3" cy="179.0" r="1.1"/><circle cx="174.1" cy="182.5" r="1.1"/><circle cx="184.4" cy="178.0" r="1.1"/><circle cx="186.5" cy="182.3" r="1.1"/><circle cx="175.1" cy="182.0" r="1.1"/><circle cx="172.0" cy="179.0" r="1.1"/><circle cx="181.6" cy="183.1" r="1.1"/><circle cx="179.9" cy="178.2" r="1.1"/><circle cx="179.5" cy="181.7" r="1.1"/><circle cx="185.4" cy="180.7" r="1.1"/><circle cx="179.2" cy="177.7" r="1.1"/><circle cx="179.8" cy="179.6" r="1.1"/><circle cx="179.7" cy="180.3" r="1.1"/><circle cx="179.0" cy="179.7" r="1.1"/><circle cx="178.1" cy="175.6" r="1.1"/><circle cx="173.3" cy="184.0" r="1.1"/><circle cx="175.9" cy="183.8" r="1.1"/><circle cx="175.3" cy="174.9" r="1.1"/><circle cx="175.0" cy="183.6" r="1.1"/><circle cx="185.4" cy="179.6" r="1.1"/><circle cx="172.4" cy="175.7" r="1.1"/><circle cx="174.2" cy="182.4" r="1.1"/><circle cx="180.4" cy="178.7" r="1.1"/><circle cx="176.3" cy="181.4" r="1.1"/><circle cx="174.9" cy="182.5" r="1.1"/><circle cx="177.4" cy="179.7" r="1.1"/><circle cx="179.9" cy="175.0" r="1.1"/><circle cx="183.3" cy="182.4" r="1.1"/><circle cx="189.1" cy="181.2" r="1.1"/><circle cx="186.7" cy="183.3" r="1.1"/><circle cx="178.5" cy="177.1" r="1.1"/><circle cx="179.0" cy="182.1" r="1.1"/><circle cx="178.3" cy="182.9" r="1.1"/><circle cx="174.8" cy="177.9" r="1.1"/><circle cx="188.7" cy="178.5" r="1.1"/><circle cx="171.5" cy="177.7" r="1.1"/><circle cx="174.2" cy="174.6" r="1.1"/><circle cx="183.0" cy="176.8" r="1.1"/><circle cx="181.6" cy="177.7" r="1.1"/><circle cx="175.6" cy="175.6" r="1.1"/><circle cx="188.4" cy="181.9" r="1.1"/><circle cx="178.1" cy="178.6" r="1.1"/><circle cx="181.8" cy="180.0" r="1.1"/><circle cx="172.0" cy="177.3" r="1.1"/><circle cx="187.5" cy="178.0" r="1.1"/><circle cx="172.2" cy="181.8" r="1.1"/><circle cx="177.8" cy="179.0" r="1.1"/><circle cx="187.4" cy="180.3" r="1.1"/><circle cx="188.5" cy="178.6" r="1.1"/><circle cx="187.7" cy="179.9" r="1.1"/><circle cx="186.3" cy="183.1" r="1.1"/><circle cx="174.7" cy="177.1" r="1.1"/><circle cx="170.8" cy="179.5" r="1.1"/><circle cx="179.0" cy="181.1" r="1.1"/><circle cx="171.4" cy="175.4" r="1.1"/><circle cx="188.8" cy="183.8" r="1.1"/><circle cx="170.4" cy="179.3" r="1.1"/><circle cx="176.5" cy="176.9" r="1.1"/><circle cx="174.1" cy="181.8" r="1.1"/><circle cx="170.5" cy="182.4" r="1.1"/><circle cx="179.9" cy="180.6" r="1.1"/><circle cx="171.7" cy="183.3" r="1.1"/><circle cx="187.7" cy="175.4" r="1.1"/><circle cx="183.5" cy="179.6" r="1.1"/><circle cx="177.4" cy="181.7" r="1.1"/><circle cx="186.5" cy="183.3" r="1.1"/><circle cx="185.7" cy="180.7" r="1.1"/><circle cx="176.5" cy="180.3" r="1.1"/><circle cx="186.6" cy="178.3" r="1.1"/><circle cx="188.2" cy="180.0" r="1.1"/><circle cx="182.2" cy="179.9" r="1.1"/><circle cx="177.0" cy="183.2" r="1.1"/><circle cx="187.7" cy="182.5" r="1.1"/><circle cx="188.5" cy="181.6" r="1.1"/><circle cx="176.9" cy="183.4" r="1.1"/><circle cx="171.9" cy="175.2" r="1.1"/><circle cx="187.0" cy="181.9" r="1.1"/><circle cx="183.1" cy="179.0" r="1.1"/><circle cx="174.7" cy="181.7" r="1.1"/><circle cx="181.2" cy="177.4" r="1.1"/><circle cx="176.2" cy="179.0" r="1.1"/><circle cx="239.9" cy="181.9" r="1.1"/><circle cx="224.6" cy="179.3" r="1.1"/><circle cx="229.6" cy="180.9" r="1.1"/><circle cx="233.4" cy="181.6" r="1.1"/><circle cx="240.5" cy="180.4" r="1.1"/><circle cx="229.2" cy="176.4" r="1.1"/><circle cx="239.9" cy="181.2" r="1.1"/><circle cx="228.7" cy="175.6" r="1.1"/><circle cx="229.8" cy="177.1" r="1.1"/><circle cx="234.7" cy="178.8" r="1.1"/><circle cx="236.6" cy="175.6" r="1.1"/><circle cx="241.0" cy="175.5" r="1.1"/><circle cx="241.0" cy="180.8" r="1.1"/><circle cx="228.8" cy="181.7" r="1.1"/><circle cx="238.4" cy="178.1" r="1.1"/><circle cx="236.3" cy="178.3" r="1.1"/><circle cx="231.4" cy="176.5" r="1.1"/><circle cx="239.0" cy="179.5" r="1.1"/><circle cx="241.4" cy="180.1" r="1.1"/><circle cx="233.2" cy="183.5" r="1.1"/><circle cx="241.7" cy="174.9" r="1.1"/><circle cx="226.4" cy="183.3" r="1.1"/><circle cx="227.2" cy="184.0" r="1.1"/><circle cx="238.8" cy="177.9" r="1.1"/><circle cx="229.9" cy="181.5" r="1.1"/><circle cx="235.3" cy="182.4" r="1.1"/><circle cx="233.6" cy="180.8" r="1.1"/><circle cx="226.8" cy="177.3" r="1.1"/><circle cx="238.6" cy="180.5" r="1.1"/><circle cx="238.3" cy="182.9" r="1.1"/><circle cx="226.8" cy="175.6" r="1.1"/><circle cx="229.0" cy="179.1" r="1.1"/><circle cx="239.5" cy="174.7" r="1.1"/><circle cx="241.6" cy="182.6" r="1.1"/><circle cx="240.8" cy="182.0" r="1.1"/><circle cx="233.7" cy="175.0" r="1.1"/><circle cx="231.1" cy="181.7" r="1.1"/><circle cx="232.6" cy="181.2" r="1.1"/><circle cx="227.4" cy="175.7" r="1.1"/><circle cx="233.6" cy="179.6" r="1.1"/><circle cx="228.4" cy="181.1" r="1.1"/><circle cx="227.1" cy="177.7" r="1.1"/><circle cx="231.3" cy="179.4" r="1.1"/><circle cx="225.2" cy="183.9" r="1.1"/><circle cx="233.1" cy="180.6" r="1.1"/><circle cx="237.5" cy="179.3" r="1.1"/><circle cx="236.6" cy="175.2" r="1.1"/><circle cx="242.9" cy="175.7" r="1.1"/><circle cx="241.1" cy="182.7" r="1.1"/><circle cx="236.2" cy="181.7" r="1.1"/><circle cx="241.4" cy="182.5" r="1.1"/><circle cx="232.6" cy="180.1" r="1.1"/><circle cx="239.4" cy="180.1" r="1.1"/><circle cx="229.5" cy="179.6" r="1.1"/><circle cx="234.2" cy="181.6" r="1.1"/><circle cx="243.0" cy="177.7" r="1.1"/><circle cx="235.6" cy="179.3" r="1.1"/><circle cx="233.8" cy="179.0" r="1.1"/><circle cx="239.2" cy="180.9" r="1.1"/><circle cx="230.0" cy="176.6" r="1.1"/><circle cx="240.1" cy="174.8" r="1.1"/><circle cx="224.3" cy="175.4" r="1.1"/><circle cx="228.6" cy="176.2" r="1.1"/><circle cx="227.4" cy="182.8" r="1.1"/><circle cx="228.9" cy="181.4" r="1.1"/><circle cx="242.3" cy="181.7" r="1.1"/><circle cx="224.4" cy="178.8" r="1.1"/><circle cx="229.7" cy="175.5" r="1.1"/><circle cx="235.1" cy="179.0" r="1.1"/><circle cx="237.6" cy="182.8" r="1.1"/><circle cx="239.0" cy="179.4" r="1.1"/><circle cx="231.4" cy="180.6" r="1.1"/><circle cx="228.2" cy="178.1" r="1.1"/><circle cx="240.5" cy="176.0" r="1.1"/><circle cx="226.3" cy="180.5" r="1.1"/><circle cx="225.2" cy="179.2" r="1.1"/><circle cx="228.4" cy="177.8" r="1.1"/><circle cx="233.5" cy="177.0" r="1.1"/><circle cx="242.2" cy="181.2" r="1.1"/><circle cx="238.1" cy="177.6" r="1.1"/><circle cx="234.9" cy="180.1" r="1.1"/><circle cx="234.1" cy="177.0" r="1.1"/><circle cx="237.4" cy="181.8" r="1.1"/><circle cx="236.1" cy="178.1" r="1.1"/><circle cx="230.5" cy="179.1" r="1.1"/><circle cx="225.7" cy="183.4" r="1.1"/><circle cx="227.8" cy="181.4" r="1.1"/><circle cx="239.1" cy="181.6" r="1.1"/><circle cx="236.3" cy="177.8" r="1.1"/><circle cx="239.4" cy="182.6" r="1.1"/><circle cx="224.8" cy="178.2" r="1.1"/><circle cx="241.4" cy="184.0" r="1.1"/><circle cx="231.4" cy="183.1" r="1.1"/><circle cx="241.9" cy="180.9" r="1.1"/><circle cx="235.5" cy="182.5" r="1.1"/><circle cx="234.6" cy="179.8" r="1.1"/><circle cx="239.8" cy="181.6" r="1.1"/><circle cx="236.1" cy="175.7" r="1.1"/><circle cx="237.0" cy="184.0" r="1.1"/><circle cx="227.0" cy="182.2" r="1.1"/><circle cx="235.7" cy="175.9" r="1.1"/><circle cx="230.9" cy="176.9" r="1.1"/><circle cx="225.4" cy="180.0" r="1.1"/><circle cx="226.5" cy="181.9" r="1.1"/><circle cx="233.3" cy="176.0" r="1.1"/><circle cx="229.0" cy="183.8" r="1.1"/><circle cx="238.8" cy="177.9" r="1.1"/><circle cx="226.3" cy="184.1" r="1.1"/><circle cx="224.2" cy="181.8" r="1.1"/><circle cx="243.3" cy="179.2" r="1.1"/><circle cx="230.0" cy="178.0" r="1.1"/><circle cx="233.8" cy="175.5" r="1.1"/><circle cx="228.0" cy="175.4" r="1.1"/><circle cx="228.0" cy="180.6" r="1.1"/><circle cx="231.8" cy="182.0" r="1.1"/><circle cx="239.3" cy="183.2" r="1.1"/><circle cx="224.7" cy="178.0" r="1.1"/><circle cx="240.2" cy="183.5" r="1.1"/><circle cx="243.2" cy="177.4" r="1.1"/><circle cx="234.8" cy="183.6" r="1.1"/><circle cx="230.9" cy="183.3" r="1.1"/><circle cx="228.5" cy="176.0" r="1.1"/><circle cx="227.5" cy="182.8" r="1.1"/><circle cx="230.2" cy="181.3" r="1.1"/><circle cx="240.5" cy="181.3" r="1.1"/><circle cx="224.0" cy="182.6" r="1.1"/><circle cx="239.2" cy="179.7" r="1.1"/><circle cx="236.9" cy="179.4" r="1.1"/><circle cx="224.3" cy="178.1" r="1.1"/><circle cx="225.3" cy="182.8" r="1.1"/><circle cx="238.2" cy="183.2" r="1.1"/><circle cx="237.0" cy="176.1" r="1.1"/><circle cx="230.0" cy="181.9" r="1.1"/><circle cx="240.7" cy="177.2" r="1.1"/><circle cx="228.0" cy="176.3" r="1.1"/><circle cx="232.2" cy="176.4" r="1.1"/><circle cx="226.2" cy="180.0" r="1.1"/><circle cx="236.5" cy="177.2" r="1.1"/><circle cx="225.6" cy="176.9" r="1.1"/><circle cx="227.4" cy="175.5" r="1.1"/><circle cx="284.0" cy="180.9" r="1.1"/><circle cx="292.7" cy="183.4" r="1.1"/><circle cx="278.1" cy="183.1" r="1.1"/><circle cx="287.1" cy="174.9" r="1.1"/><circle cx="289.4" cy="177.1" r="1.1"/><circle cx="278.7" cy="178.3" r="1.1"/><circle cx="283.4" cy="177.0" r="1.1"/><circle cx="295.3" cy="176.2" r="1.1"/><circle cx="297.0" cy="182.9" r="1.1"/><circle cx="294.2" cy="174.8" r="1.1"/><circle cx="281.0" cy="176.3" r="1.1"/><circle cx="292.5" cy="181.8" r="1.1"/><circle cx="286.4" cy="176.7" r="1.1"/><circle cx="281.0" cy="177.0" r="1.1"/><circle cx="287.0" cy="183.8" r="1.1"/><circle cx="295.6" cy="181.9" r="1.1"/><circle cx="294.7" cy="178.8" r="1.1"/><circle cx="285.3" cy="175.8" r="1.1"/><circle cx="278.9" cy="177.1" r="1.1"/><circle cx="295.2" cy="183.9" r="1.1"/><circle cx="296.8" cy="182.1" r="1.1"/><circle cx="287.6" cy="175.2" r="1.1"/><circle cx="282.1" cy="181.3" r="1.1"/><circle cx="288.2" cy="178.1" r="1.1"/><circle cx="291.2" cy="181.4" r="1.1"/><circle cx="287.1" cy="177.4" r="1.1"/><circle cx="284.5" cy="175.8" r="1.1"/><circle cx="282.5" cy="174.7" r="1.1"/><circle cx="283.5" cy="177.4" r="1.1"/><circle cx="278.7" cy="182.8" r="1.1"/><circle cx="282.6" cy="183.1" r="1.1"/><circle cx="296.2" cy="181.1" r="1.1"/><circle cx="277.9" cy="181.7" r="1.1"/><circle cx="291.8" cy="176.4" r="1.1"/><circle cx="293.0" cy="177.9" r="1.1"/><circle cx="285.6" cy="183.2" r="1.1"/><circle cx="289.2" cy="184.0" r="1.1"/><circle cx="282.0" cy="178.8" r="1.1"/><circle cx="290.7" cy="182.0" r="1.1"/><circle cx="291.4" cy="183.5" r="1.1"/><circle cx="292.0" cy="184.1" r="1.1"/><circle cx="287.2" cy="177.4" r="1.1"/><circle cx="296.5" cy="180.8" r="1.1"/><circle cx="294.5" cy="178.3" r="1.1"/><circle cx="288.8" cy="179.0" r="1.1"/><circle cx="290.9" cy="179.0" r="1.1"/><circle cx="283.0" cy="177.2" r="1.1"/><circle cx="296.0" cy="174.7" r="1.1"/><circle cx="290.2" cy="181.9" r="1.1"/><circle cx="295.1" cy="181.2" r="1.1"/><circle cx="283.3" cy="182.6" r="1.1"/><circle cx="296.8" cy="176.0" r="1.1"/><circle cx="279.7" cy="176.8" r="1.1"/><circle cx="288.0" cy="180.3" r="1.1"/><circle cx="279.8" cy="183.5" r="1.1"/><circle cx="281.4" cy="179.1" r="1.1"/><circle cx="292.5" cy="176.5" r="1.1"/><circle cx="279.0" cy="180.2" r="1.1"/><circle cx="285.1" cy="183.7" r="1.1"/><circle cx="281.4" cy="182.9" r="1.1"/><circle cx="294.2" cy="183.2" r="1.1"/><circle cx="279.3" cy="178.5" r="1.1"/><circle cx="284.2" cy="177.0" r="1.1"/><circle cx="294.3" cy="182.9" r="1.1"/><circle cx="291.0" cy="182.1" r="1.1"/><circle cx="291.3" cy="182.7" r="1.1"/><circle cx="296.9" cy="178.3" r="1.1"/><circle cx="278.2" cy="177.3" r="1.1"/><circle cx="290.6" cy="176.8" r="1.1"/><circle cx="292.2" cy="182.9" r="1.1"/><circle cx="292.2" cy="183.4" r="1.1"/><circle cx="291.6" cy="178.1" r="1.1"/><circle cx="279.1" cy="182.9" r="1.1"/><circle cx="279.3" cy="178.2" r="1.1"/><circle cx="292.7" cy="178.8" r="1.1"/><circle cx="289.6" cy="180.0" r="1.1"/><circle cx="282.8" cy="176.7" r="1.1"/><circle cx="277.9" cy="177.1" r="1.1"/><circle cx="288.0" cy="177.1" r="1.1"/><circle cx="279.5" cy="177.0" r="1.1"/><circle cx="292.2" cy="179.5" r="1.1"/><circle cx="284.3" cy="175.5" r="1.1"/><circle cx="293.4" cy="182.0" r="1.1"/><circle cx="279.6" cy="176.2" r="1.1"/><circle cx="287.3" cy="178.8" r="1.1"/><circle cx="279.6" cy="180.7" r="1.1"/><circle cx="292.8" cy="175.9" r="1.1"/><circle cx="288.6" cy="178.5" r="1.1"/><circle cx="282.3" cy="179.9" r="1.1"/><circle cx="296.4" cy="179.8" r="1.1"/><circle cx="290.9" cy="183.1" r="1.1"/><circle cx="284.2" cy="182.1" r="1.1"/><circle cx="294.3" cy="175.7" r="1.1"/><circle cx="285.1" cy="182.5" r="1.1"/><circle cx="296.0" cy="179.8" r="1.1"/><circle cx="283.5" cy="181.0" r="1.1"/><circle cx="296.8" cy="176.1" r="1.1"/><circle cx="278.9" cy="179.1" r="1.1"/><circle cx="292.0" cy="181.2" r="1.1"/><circle cx="283.4" cy="182.2" r="1.1"/><circle cx="285.9" cy="182.3" r="1.1"/><circle cx="290.0" cy="176.6" r="1.1"/><circle cx="278.6" cy="182.5" r="1.1"/><circle cx="282.0" cy="180.0" r="1.1"/><circle cx="279.7" cy="180.9" r="1.1"/><circle cx="292.0" cy="182.7" r="1.1"/><circle cx="282.0" cy="178.4" r="1.1"/><circle cx="287.4" cy="183.4" r="1.1"/><circle cx="284.1" cy="183.0" r="1.1"/><circle cx="282.3" cy="182.3" r="1.1"/><circle cx="295.8" cy="178.2" r="1.1"/><circle cx="287.5" cy="179.6" r="1.1"/><circle cx="290.3" cy="176.2" r="1.1"/><circle cx="291.4" cy="181.8" r="1.1"/><circle cx="293.6" cy="183.1" r="1.1"/><circle cx="282.8" cy="176.1" r="1.1"/><circle cx="279.2" cy="181.7" r="1.1"/><circle cx="286.8" cy="181.2" r="1.1"/><circle cx="281.0" cy="174.9" r="1.1"/><circle cx="278.1" cy="183.3" r="1.1"/><circle cx="295.5" cy="179.1" r="1.1"/><circle cx="289.9" cy="177.1" r="1.1"/><circle cx="285.7" cy="174.8" r="1.1"/><circle cx="280.3" cy="182.0" r="1.1"/><circle cx="292.5" cy="177.8" r="1.1"/><circle cx="288.0" cy="179.5" r="1.1"/><circle cx="281.1" cy="176.4" r="1.1"/><circle cx="296.8" cy="180.4" r="1.1"/><circle cx="296.1" cy="178.3" r="1.1"/><circle cx="295.7" cy="182.3" r="1.1"/><circle cx="293.7" cy="180.9" r="1.1"/><circle cx="288.0" cy="181.5" r="1.1"/><circle cx="283.5" cy="176.9" r="1.1"/><circle cx="290.3" cy="175.1" r="1.1"/><circle cx="280.6" cy="183.0" r="1.1"/><circle cx="289.7" cy="183.5" r="1.1"/><circle cx="279.0" cy="180.7" r="1.1"/><circle cx="278.0" cy="183.4" r="1.1"/><circle cx="291.6" cy="181.3" r="1.1"/><circle cx="284.3" cy="180.3" r="1.1"/><circle cx="291.2" cy="178.6" r="1.1"/><circle cx="292.8" cy="177.9" r="1.1"/><circle cx="293.9" cy="179.2" r="1.1"/><circle cx="289.6" cy="176.7" r="1.1"/><circle cx="294.1" cy="178.6" r="1.1"/><circle cx="72.5" cy="228.0" r="1.1"/><circle cx="63.3" cy="230.8" r="1.1"/><circle cx="70.3" cy="222.6" r="1.1"/><circle cx="68.2" cy="230.6" r="1.1"/><circle cx="75.0" cy="230.4" r="1.1"/><circle cx="78.4" cy="228.1" r="1.1"/><circle cx="74.6" cy="226.1" r="1.1"/><circle cx="75.6" cy="228.8" r="1.1"/><circle cx="74.6" cy="224.4" r="1.1"/><circle cx="67.7" cy="228.4" r="1.1"/><circle cx="70.0" cy="228.7" r="1.1"/><circle cx="79.1" cy="227.2" r="1.1"/><circle cx="81.1" cy="224.5" r="1.1"/><circle cx="66.2" cy="222.0" r="1.1"/><circle cx="62.9" cy="223.9" r="1.1"/><circle cx="81.4" cy="230.0" r="1.1"/><circle cx="79.4" cy="224.1" r="1.1"/><circle cx="74.5" cy="222.7" r="1.1"/><circle cx="78.5" cy="224.4" r="1.1"/><circle cx="74.2" cy="227.0" r="1.1"/><circle cx="80.3" cy="227.6" r="1.1"/><circle cx="67.4" cy="230.4" r="1.1"/><circle cx="71.3" cy="230.2" r="1.1"/><circle cx="75.7" cy="231.3" r="1.1"/><circle cx="66.9" cy="230.5" r="1.1"/><circle cx="76.6" cy="226.3" r="1.1"/><circle cx="67.8" cy="223.4" r="1.1"/><circle cx="76.5" cy="231.2" r="1.1"/><circle cx="78.3" cy="224.2" r="1.1"/><circle cx="70.9" cy="228.0" r="1.1"/><circle cx="81.9" cy="224.6" r="1.1"/><circle cx="74.9" cy="229.9" r="1.1"/><circle cx="77.4" cy="223.9" r="1.1"/><circle cx="63.1" cy="226.1" r="1.1"/><circle cx="64.9" cy="224.1" r="1.1"/><circle cx="76.5" cy="230.3" r="1.1"/><circle cx="81.0" cy="228.0" r="1.1"/><circle cx="128.7" cy="223.8" r="1.1"/><circle cx="122.6" cy="222.6" r="1.1"/><circle cx="119.9" cy="230.6" r="1.1"/><circle cx="133.1" cy="226.0" r="1.1"/><circle cx="131.3" cy="226.9" r="1.1"/><circle cx="130.7" cy="231.0" r="1.1"/><circle cx="135.8" cy="224.1" r="1.1"/><circle cx="127.3" cy="231.3" r="1.1"/><circle cx="119.9" cy="225.8" r="1.1"/><circle cx="128.3" cy="224.4" r="1.1"/><circle cx="122.0" cy="224.3" r="1.1"/><circle cx="126.4" cy="227.0" r="1.1"/><circle cx="125.4" cy="226.5" r="1.1"/><circle cx="127.4" cy="230.5" r="1.1"/><circle cx="134.3" cy="222.5" r="1.1"/><circle cx="132.2" cy="222.4" r="1.1"/><circle cx="124.5" cy="223.5" r="1.1"/><circle cx="132.3" cy="227.8" r="1.1"/><circle cx="133.1" cy="229.5" r="1.1"/><circle cx="131.5" cy="226.6" r="1.1"/><circle cx="127.1" cy="227.9" r="1.1"/><circle cx="133.9" cy="228.2" r="1.1"/><circle cx="126.0" cy="222.2" r="1.1"/><circle cx="118.5" cy="224.4" r="1.1"/><circle cx="121.7" cy="231.6" r="1.1"/><circle cx="129.2" cy="225.2" r="1.1"/><circle cx="123.8" cy="231.1" r="1.1"/><circle cx="124.7" cy="226.7" r="1.1"/><circle cx="124.3" cy="224.2" r="1.1"/><circle cx="120.2" cy="222.0" r="1.1"/><circle cx="118.3" cy="224.1" r="1.1"/><circle cx="117.4" cy="225.1" r="1.1"/><circle cx="129.5" cy="226.2" r="1.1"/><circle cx="122.7" cy="226.3" r="1.1"/><circle cx="125.3" cy="227.3" r="1.1"/><circle cx="134.6" cy="226.6" r="1.1"/><circle cx="128.6" cy="222.3" r="1.1"/><circle cx="132.2" cy="224.6" r="1.1"/><circle cx="131.2" cy="231.3" r="1.1"/><circle cx="135.0" cy="222.3" r="1.1"/><circle cx="117.7" cy="229.1" r="1.1"/><circle cx="123.9" cy="226.6" r="1.1"/><circle cx="134.9" cy="228.8" r="1.1"/><circle cx="125.5" cy="225.2" r="1.1"/><circle cx="134.8" cy="225.6" r="1.1"/><circle cx="180.2" cy="229.1" r="1.1"/><circle cx="187.8" cy="223.9" r="1.1"/><circle cx="176.6" cy="227.1" r="1.1"/><circle cx="171.9" cy="224.5" r="1.1"/><circle cx="170.9" cy="226.2" r="1.1"/><circle cx="187.3" cy="230.0" r="1.1"/><circle cx="176.3" cy="228.4" r="1.1"/><circle cx="172.5" cy="226.3" r="1.1"/><circle cx="181.8" cy="224.6" r="1.1"/><circle cx="186.6" cy="229.7" r="1.1"/><circle cx="181.8" cy="228.3" r="1.1"/><circle cx="173.1" cy="226.2" r="1.1"/><circle cx="178.1" cy="230.4" r="1.1"/><circle cx="175.4" cy="228.7" r="1.1"/><circle cx="170.5" cy="231.4" r="1.1"/><circle cx="188.9" cy="228.4" r="1.1"/><circle cx="179.1" cy="230.7" r="1.1"/><circle cx="172.8" cy="227.3" r="1.1"/><circle cx="187.4" cy="228.8" r="1.1"/><circle cx="189.3" cy="230.1" r="1.1"/><circle cx="186.0" cy="222.9" r="1.1"/><circle cx="175.1" cy="226.6" r="1.1"/><circle cx="173.9" cy="227.8" r="1.1"/><circle cx="180.4" cy="222.6" r="1.1"/><circle cx="181.5" cy="229.6" r="1.1"/><circle cx="187.2" cy="228.9" r="1.1"/><circle cx="189.0" cy="231.0" r="1.1"/><circle cx="187.9" cy="225.6" r="1.1"/><circle cx="176.8" cy="226.5" r="1.1"/><circle cx="181.6" cy="230.8" r="1.1"/><circle cx="172.6" cy="226.0" r="1.1"/><circle cx="180.3" cy="230.0" r="1.1"/><circle cx="171.6" cy="226.1" r="1.1"/><circle cx="172.4" cy="225.3" r="1.1"/><circle cx="172.6" cy="224.7" r="1.1"/><circle cx="176.0" cy="224.1" r="1.1"/><circle cx="176.2" cy="226.2" r="1.1"/><circle cx="183.9" cy="223.6" r="1.1"/><circle cx="171.7" cy="230.0" r="1.1"/><circle cx="172.4" cy="231.4" r="1.1"/><circle cx="182.9" cy="223.0" r="1.1"/><circle cx="183.3" cy="222.5" r="1.1"/><circle cx="184.0" cy="222.1" r="1.1"/><circle cx="184.2" cy="231.0" r="1.1"/><circle cx="183.1" cy="222.7" r="1.1"/><circle cx="180.9" cy="228.5" r="1.1"/><circle cx="184.6" cy="224.9" r="1.1"/><circle cx="171.8" cy="223.9" r="1.1"/><circle cx="174.3" cy="224.4" r="1.1"/><circle cx="237.3" cy="222.2" r="1.1"/><circle cx="224.3" cy="228.0" r="1.1"/><circle cx="240.7" cy="225.9" r="1.1"/><circle cx="235.0" cy="226.3" r="1.1"/><circle cx="228.5" cy="229.9" r="1.1"/><circle cx="228.0" cy="230.8" r="1.1"/><circle cx="236.7" cy="231.3" r="1.1"/><circle cx="236.2" cy="229.5" r="1.1"/><circle cx="230.1" cy="222.0" r="1.1"/><circle cx="230.4" cy="223.5" r="1.1"/><circle cx="232.9" cy="227.7" r="1.1"/><circle cx="241.6" cy="231.2" r="1.1"/><circle cx="234.4" cy="222.8" r="1.1"/><circle cx="240.2" cy="227.0" r="1.1"/><circle cx="236.4" cy="225.8" r="1.1"/><circle cx="234.9" cy="225.9" r="1.1"/><circle cx="233.4" cy="224.6" r="1.1"/><circle cx="237.2" cy="224.6" r="1.1"/><circle cx="233.5" cy="224.3" r="1.1"/><circle cx="238.0" cy="223.0" r="1.1"/><circle cx="227.5" cy="227.3" r="1.1"/><circle cx="230.2" cy="226.3" r="1.1"/><circle cx="240.9" cy="228.9" r="1.1"/><circle cx="231.6" cy="228.2" r="1.1"/><circle cx="240.3" cy="231.2" r="1.1"/><circle cx="242.1" cy="225.3" r="1.1"/><circle cx="235.2" cy="230.5" r="1.1"/><circle cx="225.9" cy="225.7" r="1.1"/><circle cx="238.6" cy="228.4" r="1.1"/><circle cx="236.9" cy="229.7" r="1.1"/><circle cx="229.6" cy="225.8" r="1.1"/><circle cx="240.7" cy="226.3" r="1.1"/><circle cx="233.3" cy="228.1" r="1.1"/><circle cx="225.1" cy="223.1" r="1.1"/><circle cx="225.3" cy="227.1" r="1.1"/><circle cx="228.4" cy="222.9" r="1.1"/><circle cx="235.8" cy="224.2" r="1.1"/><circle cx="239.8" cy="228.0" r="1.1"/><circle cx="225.9" cy="231.3" r="1.1"/><circle cx="297.1" cy="229.6" r="1.1"/><circle cx="282.8" cy="222.7" r="1.1"/><circle cx="280.5" cy="226.4" r="1.1"/><circle cx="287.8" cy="226.9" r="1.1"/><circle cx="286.3" cy="230.6" r="1.1"/><circle cx="285.1" cy="230.0" r="1.1"/><circle cx="292.6" cy="227.3" r="1.1"/><circle cx="291.5" cy="222.5" r="1.1"/><circle cx="288.6" cy="226.1" r="1.1"/><circle cx="289.8" cy="225.6" r="1.1"/><circle cx="289.0" cy="231.6" r="1.1"/><circle cx="290.8" cy="228.6" r="1.1"/><circle cx="295.7" cy="225.9" r="1.1"/><circle cx="296.1" cy="225.5" r="1.1"/><circle cx="296.7" cy="229.4" r="1.1"/><circle cx="294.4" cy="222.9" r="1.1"/><circle cx="279.7" cy="229.9" r="1.1"/><circle cx="286.5" cy="228.5" r="1.1"/><circle cx="292.9" cy="226.2" r="1.1"/><circle cx="283.4" cy="228.8" r="1.1"/><circle cx="289.5" cy="225.8" r="1.1"/><circle cx="278.8" cy="223.4" r="1.1"/><circle cx="281.7" cy="226.0" r="1.1"/><circle cx="285.5" cy="222.5" r="1.1"/><circle cx="279.1" cy="222.9" r="1.1"/><circle cx="285.9" cy="226.2" r="1.1"/><circle cx="282.2" cy="229.9" r="1.1"/><circle cx="294.4" cy="224.0" r="1.1"/><circle cx="283.9" cy="226.8" r="1.1"/><circle cx="285.1" cy="231.4" r="1.1"/><circle cx="293.3" cy="230.0" r="1.1"/><circle cx="288.6" cy="230.7" r="1.1"/><circle cx="278.7" cy="228.5" r="1.1"/><circle cx="281.9" cy="227.7" r="1.1"/><circle cx="289.6" cy="227.6" r="1.1"/><circle cx="281.6" cy="227.8" r="1.1"/><circle cx="282.5" cy="226.5" r="1.1"/><circle cx="289.8" cy="225.5" r="1.1"/><circle cx="287.3" cy="224.3" r="1.1"/><circle cx="282.9" cy="222.6" r="1.1"/><circle cx="288.5" cy="225.6" r="1.1"/><circle cx="290.0" cy="229.4" r="1.1"/><circle cx="278.5" cy="227.3" r="1.1"/><circle cx="283.0" cy="223.6" r="1.1"/><circle cx="283.7" cy="229.8" r="1.1"/><circle cx="294.7" cy="222.4" r="1.1"/><circle cx="278.7" cy="231.0" r="1.1"/><circle cx="284.4" cy="228.3" r="1.1"/><circle cx="281.5" cy="227.4" r="1.1"/><circle cx="291.2" cy="226.0" r="1.1"/><circle cx="293.4" cy="229.9" r="1.1"/><circle cx="278.8" cy="222.1" r="1.1"/><circle cx="294.4" cy="222.2" r="1.1"/><circle cx="291.2" cy="227.0" r="1.1"/><circle cx="281.9" cy="224.9" r="1.1"/><circle cx="295.5" cy="225.9" r="1.1"/><circle cx="283.4" cy="227.2" r="1.1"/><circle cx="63.5" cy="272.4" r="1.1"/><circle cx="81.8" cy="269.6" r="1.1"/><circle cx="75.8" cy="274.6" r="1.1"/><circle cx="64.6" cy="275.5" r="1.1"/><circle cx="77.0" cy="273.7" r="1.1"/><circle cx="73.0" cy="278.7" r="1.1"/><circle cx="76.0" cy="271.4" r="1.1"/><circle cx="77.0" cy="277.3" r="1.1"/><circle cx="81.9" cy="276.4" r="1.1"/><circle cx="65.0" cy="278.1" r="1.1"/><circle cx="82.0" cy="278.4" r="1.1"/><circle cx="72.0" cy="271.8" r="1.1"/><circle cx="66.6" cy="278.4" r="1.1"/><circle cx="69.9" cy="273.4" r="1.1"/><circle cx="69.8" cy="276.0" r="1.1"/><circle cx="80.1" cy="278.7" r="1.1"/><circle cx="72.9" cy="275.2" r="1.1"/><circle cx="64.0" cy="275.1" r="1.1"/><circle cx="76.6" cy="270.2" r="1.1"/><circle cx="72.4" cy="275.2" r="1.1"/><circle cx="78.5" cy="271.8" r="1.1"/><circle cx="63.6" cy="273.2" r="1.1"/><circle cx="79.5" cy="273.1" r="1.1"/><circle cx="80.0" cy="278.8" r="1.1"/><circle cx="62.9" cy="275.6" r="1.1"/><circle cx="72.0" cy="276.5" r="1.1"/><circle cx="65.1" cy="271.2" r="1.1"/><circle cx="73.0" cy="272.4" r="1.1"/><circle cx="64.4" cy="277.9" r="1.1"/><circle cx="79.9" cy="270.7" r="1.1"/><circle cx="66.3" cy="278.7" r="1.1"/><circle cx="75.7" cy="273.6" r="1.1"/><circle cx="75.4" cy="273.2" r="1.1"/><circle cx="68.9" cy="274.4" r="1.1"/><circle cx="66.9" cy="273.8" r="1.1"/><circle cx="80.5" cy="274.0" r="1.1"/><circle cx="63.5" cy="273.6" r="1.1"/><circle cx="67.6" cy="276.2" r="1.1"/><circle cx="69.0" cy="272.2" r="1.1"/><circle cx="74.0" cy="271.1" r="1.1"/><circle cx="69.9" cy="273.7" r="1.1"/><circle cx="64.9" cy="270.4" r="1.1"/><circle cx="73.8" cy="273.8" r="1.1"/><circle cx="76.7" cy="274.2" r="1.1"/><circle cx="76.4" cy="277.0" r="1.1"/><circle cx="72.2" cy="270.5" r="1.1"/><circle cx="124.1" cy="274.2" r="1.1"/><circle cx="131.6" cy="271.6" r="1.1"/><circle cx="123.0" cy="275.6" r="1.1"/><circle cx="132.7" cy="278.2" r="1.1"/><circle cx="130.4" cy="272.5" r="1.1"/><circle cx="117.3" cy="269.7" r="1.1"/><circle cx="123.9" cy="271.3" r="1.1"/><circle cx="131.3" cy="278.5" r="1.1"/><circle cx="126.7" cy="269.6" r="1.1"/><circle cx="129.5" cy="270.0" r="1.1"/><circle cx="135.7" cy="270.4" r="1.1"/><circle cx="129.5" cy="278.1" r="1.1"/><circle cx="127.0" cy="273.2" r="1.1"/><circle cx="132.9" cy="276.1" r="1.1"/><circle cx="124.8" cy="276.3" r="1.1"/><circle cx="116.7" cy="273.7" r="1.1"/><circle cx="121.7" cy="276.5" r="1.1"/><circle cx="128.0" cy="273.9" r="1.1"/><circle cx="134.8" cy="274.7" r="1.1"/><circle cx="128.2" cy="272.4" r="1.1"/><circle cx="122.0" cy="269.5" r="1.1"/><circle cx="135.7" cy="275.2" r="1.1"/><circle cx="124.2" cy="272.1" r="1.1"/><circle cx="120.9" cy="272.1" r="1.1"/><circle cx="127.2" cy="277.9" r="1.1"/><circle cx="123.1" cy="273.0" r="1.1"/><circle cx="118.6" cy="270.5" r="1.1"/><circle cx="130.3" cy="275.6" r="1.1"/><circle cx="129.9" cy="274.7" r="1.1"/><circle cx="135.3" cy="270.1" r="1.1"/><circle cx="119.1" cy="272.9" r="1.1"/><circle cx="134.1" cy="275.4" r="1.1"/><circle cx="131.9" cy="272.2" r="1.1"/><circle cx="121.4" cy="279.0" r="1.1"/><circle cx="125.7" cy="277.2" r="1.1"/><circle cx="128.7" cy="274.3" r="1.1"/><circle cx="122.6" cy="278.3" r="1.1"/><circle cx="118.5" cy="269.8" r="1.1"/><circle cx="132.7" cy="271.7" r="1.1"/><circle cx="119.6" cy="278.3" r="1.1"/><circle cx="126.0" cy="274.4" r="1.1"/><circle cx="124.9" cy="271.1" r="1.1"/><circle cx="134.0" cy="275.0" r="1.1"/><circle cx="127.3" cy="276.5" r="1.1"/><circle cx="124.7" cy="275.3" r="1.1"/><circle cx="135.4" cy="269.9" r="1.1"/><circle cx="123.3" cy="269.9" r="1.1"/><circle cx="130.5" cy="273.4" r="1.1"/><circle cx="121.0" cy="269.7" r="1.1"/><circle cx="131.1" cy="270.3" r="1.1"/><circle cx="131.0" cy="275.7" r="1.1"/><circle cx="132.5" cy="273.7" r="1.1"/><circle cx="171.9" cy="275.9" r="1.1"/><circle cx="187.2" cy="278.8" r="1.1"/><circle cx="177.3" cy="277.1" r="1.1"/><circle cx="187.3" cy="275.7" r="1.1"/><circle cx="182.0" cy="273.1" r="1.1"/><circle cx="182.2" cy="273.4" r="1.1"/><circle cx="178.4" cy="272.4" r="1.1"/><circle cx="183.2" cy="277.2" r="1.1"/><circle cx="174.9" cy="277.2" r="1.1"/><circle cx="175.2" cy="274.2" r="1.1"/><circle cx="187.2" cy="277.8" r="1.1"/><circle cx="174.2" cy="275.8" r="1.1"/><circle cx="177.7" cy="276.1" r="1.1"/><circle cx="184.6" cy="272.1" r="1.1"/><circle cx="176.6" cy="271.8" r="1.1"/><circle cx="177.3" cy="271.7" r="1.1"/><circle cx="187.8" cy="278.3" r="1.1"/><circle cx="174.2" cy="277.2" r="1.1"/><circle cx="174.9" cy="278.1" r="1.1"/><circle cx="187.4" cy="277.4" r="1.1"/><circle cx="175.5" cy="277.2" r="1.1"/><circle cx="176.6" cy="273.7" r="1.1"/><circle cx="187.3" cy="276.9" r="1.1"/><circle cx="176.4" cy="271.1" r="1.1"/><circle cx="189.5" cy="275.8" r="1.1"/><circle cx="186.1" cy="269.9" r="1.1"/><circle cx="186.6" cy="278.8" r="1.1"/><circle cx="174.6" cy="277.9" r="1.1"/><circle cx="174.4" cy="271.1" r="1.1"/><circle cx="184.8" cy="276.9" r="1.1"/><circle cx="186.2" cy="277.4" r="1.1"/><circle cx="174.6" cy="269.9" r="1.1"/><circle cx="174.2" cy="274.9" r="1.1"/><circle cx="174.9" cy="273.5" r="1.1"/><circle cx="172.9" cy="275.4" r="1.1"/><circle cx="178.4" cy="278.0" r="1.1"/><circle cx="180.0" cy="276.4" r="1.1"/><circle cx="182.4" cy="271.5" r="1.1"/><circle cx="171.3" cy="274.8" r="1.1"/><circle cx="173.9" cy="274.9" r="1.1"/><circle cx="172.5" cy="269.6" r="1.1"/><circle cx="175.4" cy="270.8" r="1.1"/><circle cx="173.8" cy="273.0" r="1.1"/><circle cx="188.4" cy="271.2" r="1.1"/><circle cx="177.4" cy="271.8" r="1.1"/><circle cx="172.9" cy="276.0" r="1.1"/><circle cx="242.6" cy="269.8" r="1.1"/><circle cx="232.8" cy="269.6" r="1.1"/><circle cx="236.5" cy="274.1" r="1.1"/><circle cx="238.7" cy="272.4" r="1.1"/><circle cx="237.0" cy="273.6" r="1.1"/><circle cx="236.7" cy="274.1" r="1.1"/><circle cx="224.0" cy="274.0" r="1.1"/><circle cx="240.8" cy="278.2" r="1.1"/><circle cx="227.1" cy="278.3" r="1.1"/><circle cx="227.5" cy="272.8" r="1.1"/><circle cx="233.8" cy="272.3" r="1.1"/><circle cx="235.3" cy="275.8" r="1.1"/><circle cx="238.6" cy="271.4" r="1.1"/><circle cx="229.6" cy="273.3" r="1.1"/><circle cx="242.3" cy="276.4" r="1.1"/><circle cx="236.1" cy="269.6" r="1.1"/><circle cx="240.3" cy="276.9" r="1.1"/><circle cx="233.2" cy="276.5" r="1.1"/><circle cx="225.3" cy="273.2" r="1.1"/><circle cx="224.2" cy="271.9" r="1.1"/><circle cx="236.4" cy="274.7" r="1.1"/><circle cx="232.2" cy="272.3" r="1.1"/><circle cx="232.5" cy="277.4" r="1.1"/><circle cx="230.3" cy="275.2" r="1.1"/><circle cx="227.4" cy="272.4" r="1.1"/><circle cx="233.1" cy="277.3" r="1.1"/><circle cx="228.9" cy="275.3" r="1.1"/><circle cx="241.3" cy="270.8" r="1.1"/><circle cx="227.4" cy="273.5" r="1.1"/><circle cx="242.7" cy="274.2" r="1.1"/><circle cx="240.6" cy="278.6" r="1.1"/><circle cx="231.4" cy="272.6" r="1.1"/><circle cx="238.9" cy="273.8" r="1.1"/><circle cx="235.2" cy="278.9" r="1.1"/><circle cx="233.0" cy="273.6" r="1.1"/><circle cx="239.7" cy="277.4" r="1.1"/><circle cx="240.1" cy="270.4" r="1.1"/><circle cx="227.9" cy="273.3" r="1.1"/><circle cx="241.5" cy="271.3" r="1.1"/><circle cx="294.8" cy="270.4" r="1.1"/><circle cx="288.4" cy="276.4" r="1.1"/><circle cx="281.9" cy="278.2" r="1.1"/><circle cx="279.5" cy="276.7" r="1.1"/><circle cx="285.9" cy="274.5" r="1.1"/><circle cx="279.6" cy="275.5" r="1.1"/><circle cx="287.1" cy="276.5" r="1.1"/><circle cx="291.8" cy="275.0" r="1.1"/><circle cx="283.7" cy="273.0" r="1.1"/><circle cx="280.9" cy="277.7" r="1.1"/><circle cx="284.7" cy="273.0" r="1.1"/><circle cx="280.9" cy="278.2" r="1.1"/><circle cx="294.1" cy="277.2" r="1.1"/><circle cx="279.6" cy="277.1" r="1.1"/><circle cx="292.1" cy="277.5" r="1.1"/><circle cx="284.2" cy="279.0" r="1.1"/><circle cx="291.8" cy="279.0" r="1.1"/><circle cx="292.7" cy="274.3" r="1.1"/><circle cx="280.3" cy="273.1" r="1.1"/><circle cx="292.4" cy="276.5" r="1.1"/><circle cx="296.0" cy="278.8" r="1.1"/><circle cx="288.7" cy="275.6" r="1.1"/><circle cx="290.2" cy="269.7" r="1.1"/><circle cx="284.0" cy="269.9" r="1.1"/><circle cx="281.1" cy="274.0" r="1.1"/><circle cx="292.1" cy="277.1" r="1.1"/><circle cx="293.6" cy="278.0" r="1.1"/><circle cx="281.7" cy="273.1" r="1.1"/><circle cx="279.9" cy="274.5" r="1.1"/><circle cx="284.5" cy="274.4" r="1.1"/><circle cx="289.8" cy="270.4" r="1.1"/><circle cx="284.8" cy="269.5" r="1.1"/><circle cx="296.4" cy="274.5" r="1.1"/><circle cx="293.1" cy="274.3" r="1.1"/><circle cx="295.5" cy="277.8" r="1.1"/><circle cx="289.3" cy="271.2" r="1.1"/><circle cx="292.4" cy="277.7" r="1.1"/><circle cx="296.1" cy="272.1" r="1.1"/><circle cx="278.4" cy="274.7" r="1.1"/><circle cx="288.9" cy="276.3" r="1.1"/><circle cx="281.3" cy="270.9" r="1.1"/><circle cx="293.1" cy="278.6" r="1.1"/><circle cx="282.2" cy="278.7" r="1.1"/><circle cx="292.1" cy="278.8" r="1.1"/><circle cx="284.2" cy="269.5" r="1.1"/><circle cx="290.3" cy="275.7" r="1.1"/><circle cx="290.9" cy="275.9" r="1.1"/><circle cx="295.3" cy="278.0" r="1.1"/><circle cx="294.6" cy="271.4" r="1.1"/><circle cx="286.2" cy="270.7" r="1.1"/><circle cx="291.1" cy="277.3" r="1.1"/><circle cx="281.2" cy="272.0" r="1.1"/><circle cx="64.0" cy="321.0" r="1.1"/><circle cx="64.5" cy="319.5" r="1.1"/><circle cx="75.2" cy="325.1" r="1.1"/><circle cx="73.1" cy="320.4" r="1.1"/><circle cx="77.2" cy="321.0" r="1.1"/><circle cx="78.4" cy="321.5" r="1.1"/><circle cx="62.8" cy="325.0" r="1.1"/><circle cx="80.8" cy="319.1" r="1.1"/><circle cx="79.8" cy="324.9" r="1.1"/><circle cx="80.8" cy="326.1" r="1.1"/><circle cx="77.6" cy="319.5" r="1.1"/><circle cx="70.1" cy="318.6" r="1.1"/><circle cx="67.5" cy="324.6" r="1.1"/><circle cx="80.4" cy="320.0" r="1.1"/><circle cx="70.9" cy="319.2" r="1.1"/><circle cx="72.2" cy="317.7" r="1.1"/><circle cx="76.2" cy="322.9" r="1.1"/><circle cx="76.1" cy="326.0" r="1.1"/><circle cx="76.2" cy="325.5" r="1.1"/><circle cx="74.8" cy="322.6" r="1.1"/><circle cx="72.6" cy="321.2" r="1.1"/><circle cx="77.6" cy="326.4" r="1.1"/><circle cx="70.4" cy="323.3" r="1.1"/><circle cx="67.8" cy="326.2" r="1.1"/><circle cx="80.3" cy="323.6" r="1.1"/><circle cx="79.1" cy="323.7" r="1.1"/><circle cx="76.6" cy="323.7" r="1.1"/><circle cx="66.0" cy="318.2" r="1.1"/><circle cx="63.6" cy="319.4" r="1.1"/><circle cx="80.6" cy="317.6" r="1.1"/><circle cx="81.0" cy="325.9" r="1.1"/><circle cx="68.0" cy="326.5" r="1.1"/><circle cx="74.9" cy="322.8" r="1.1"/><circle cx="63.1" cy="318.5" r="1.1"/><circle cx="70.3" cy="318.2" r="1.1"/><circle cx="76.4" cy="321.3" r="1.1"/><circle cx="69.7" cy="320.7" r="1.1"/><circle cx="78.4" cy="318.9" r="1.1"/><circle cx="80.4" cy="317.8" r="1.1"/><circle cx="65.4" cy="323.2" r="1.1"/><circle cx="76.1" cy="324.6" r="1.1"/><circle cx="70.0" cy="317.6" r="1.1"/><circle cx="66.1" cy="320.0" r="1.1"/><circle cx="69.5" cy="319.9" r="1.1"/><circle cx="72.0" cy="322.2" r="1.1"/><circle cx="80.1" cy="322.8" r="1.1"/><circle cx="77.5" cy="320.9" r="1.1"/><circle cx="62.8" cy="325.3" r="1.1"/><circle cx="63.8" cy="320.7" r="1.1"/><circle cx="82.0" cy="319.9" r="1.1"/><circle cx="73.5" cy="324.4" r="1.1"/><circle cx="74.5" cy="325.1" r="1.1"/><circle cx="69.5" cy="325.4" r="1.1"/><circle cx="78.8" cy="318.6" r="1.1"/><circle cx="73.5" cy="318.9" r="1.1"/><circle cx="74.2" cy="321.4" r="1.1"/><circle cx="67.5" cy="326.3" r="1.1"/><circle cx="77.8" cy="322.9" r="1.1"/><circle cx="66.9" cy="323.0" r="1.1"/><circle cx="65.4" cy="320.1" r="1.1"/><circle cx="74.3" cy="326.5" r="1.1"/><circle cx="78.8" cy="318.7" r="1.1"/><circle cx="68.4" cy="322.4" r="1.1"/><circle cx="68.6" cy="323.5" r="1.1"/><circle cx="65.6" cy="324.8" r="1.1"/><circle cx="74.4" cy="324.8" r="1.1"/><circle cx="77.7" cy="320.7" r="1.1"/><circle cx="65.1" cy="319.6" r="1.1"/><circle cx="73.1" cy="326.4" r="1.1"/><circle cx="73.2" cy="322.3" r="1.1"/><circle cx="64.8" cy="319.7" r="1.1"/><circle cx="73.0" cy="318.3" r="1.1"/><circle cx="68.0" cy="324.7" r="1.1"/><circle cx="66.6" cy="325.1" r="1.1"/><circle cx="81.8" cy="322.5" r="1.1"/><circle cx="64.5" cy="320.7" r="1.1"/><circle cx="69.4" cy="323.3" r="1.1"/><circle cx="74.7" cy="326.4" r="1.1"/><circle cx="70.6" cy="322.5" r="1.1"/><circle cx="63.0" cy="324.5" r="1.1"/><circle cx="79.5" cy="325.5" r="1.1"/><circle cx="67.3" cy="324.3" r="1.1"/><circle cx="70.7" cy="321.7" r="1.1"/><circle cx="80.3" cy="318.7" r="1.1"/><circle cx="81.5" cy="323.7" r="1.1"/><circle cx="80.4" cy="325.0" r="1.1"/><circle cx="70.7" cy="326.2" r="1.1"/><circle cx="77.1" cy="318.5" r="1.1"/><circle cx="79.2" cy="318.1" r="1.1"/><circle cx="66.5" cy="323.1" r="1.1"/><circle cx="81.5" cy="324.9" r="1.1"/><circle cx="64.7" cy="317.7" r="1.1"/><circle cx="75.5" cy="322.9" r="1.1"/><circle cx="67.3" cy="319.5" r="1.1"/><circle cx="66.9" cy="326.6" r="1.1"/><circle cx="65.4" cy="320.5" r="1.1"/><circle cx="81.0" cy="317.8" r="1.1"/><circle cx="65.2" cy="324.5" r="1.1"/><circle cx="80.4" cy="319.9" r="1.1"/><circle cx="65.9" cy="321.0" r="1.1"/><circle cx="69.1" cy="318.2" r="1.1"/><circle cx="66.8" cy="320.2" r="1.1"/><circle cx="81.9" cy="318.3" r="1.1"/><circle cx="64.5" cy="319.5" r="1.1"/><circle cx="79.4" cy="322.5" r="1.1"/><circle cx="68.5" cy="319.9" r="1.1"/><circle cx="81.2" cy="323.4" r="1.1"/><circle cx="77.3" cy="325.6" r="1.1"/><circle cx="67.8" cy="322.5" r="1.1"/><circle cx="72.6" cy="317.3" r="1.1"/><circle cx="65.8" cy="326.2" r="1.1"/><circle cx="70.6" cy="318.9" r="1.1"/><circle cx="63.2" cy="320.3" r="1.1"/><circle cx="75.9" cy="322.0" r="1.1"/><circle cx="74.2" cy="322.9" r="1.1"/><circle cx="68.0" cy="320.3" r="1.1"/><circle cx="63.0" cy="321.2" r="1.1"/><circle cx="80.9" cy="323.0" r="1.1"/><circle cx="65.1" cy="321.4" r="1.1"/><circle cx="69.1" cy="319.7" r="1.1"/><circle cx="63.2" cy="320.9" r="1.1"/><circle cx="70.1" cy="320.7" r="1.1"/><circle cx="70.5" cy="319.8" r="1.1"/><circle cx="73.1" cy="322.8" r="1.1"/><circle cx="69.0" cy="321.9" r="1.1"/><circle cx="67.5" cy="320.9" r="1.1"/><circle cx="77.9" cy="323.8" r="1.1"/><circle cx="68.1" cy="324.8" r="1.1"/><circle cx="69.1" cy="323.2" r="1.1"/><circle cx="72.2" cy="320.3" r="1.1"/><circle cx="68.0" cy="326.0" r="1.1"/><circle cx="76.8" cy="318.0" r="1.1"/><circle cx="64.3" cy="324.7" r="1.1"/><circle cx="69.0" cy="321.0" r="1.1"/><circle cx="124.1" cy="317.9" r="1.1"/><circle cx="132.8" cy="320.1" r="1.1"/><circle cx="129.2" cy="319.4" r="1.1"/><circle cx="135.3" cy="318.5" r="1.1"/><circle cx="133.5" cy="321.6" r="1.1"/><circle cx="118.7" cy="318.7" r="1.1"/><circle cx="126.2" cy="318.4" r="1.1"/><circle cx="131.3" cy="323.7" r="1.1"/><circle cx="118.1" cy="321.1" r="1.1"/><circle cx="127.0" cy="323.4" r="1.1"/><circle cx="135.7" cy="321.5" r="1.1"/><circle cx="121.1" cy="321.8" r="1.1"/><circle cx="118.7" cy="320.0" r="1.1"/><circle cx="122.1" cy="321.1" r="1.1"/><circle cx="123.1" cy="321.6" r="1.1"/><circle cx="122.0" cy="320.3" r="1.1"/><circle cx="124.8" cy="324.9" r="1.1"/><circle cx="132.6" cy="319.4" r="1.1"/><circle cx="126.5" cy="319.1" r="1.1"/><circle cx="127.9" cy="320.3" r="1.1"/><circle cx="118.6" cy="324.5" r="1.1"/><circle cx="117.7" cy="325.1" r="1.1"/><circle cx="134.9" cy="322.4" r="1.1"/><circle cx="123.2" cy="320.5" r="1.1"/><circle cx="134.8" cy="323.2" r="1.1"/><circle cx="123.0" cy="324.9" r="1.1"/><circle cx="128.9" cy="319.3" r="1.1"/><circle cx="129.3" cy="323.4" r="1.1"/><circle cx="118.2" cy="323.8" r="1.1"/><circle cx="117.8" cy="320.7" r="1.1"/><circle cx="125.0" cy="318.4" r="1.1"/><circle cx="118.9" cy="322.8" r="1.1"/><circle cx="122.2" cy="319.0" r="1.1"/><circle cx="120.2" cy="320.5" r="1.1"/><circle cx="122.5" cy="322.2" r="1.1"/><circle cx="125.3" cy="326.2" r="1.1"/><circle cx="122.5" cy="318.4" r="1.1"/><circle cx="123.0" cy="317.7" r="1.1"/><circle cx="125.9" cy="322.2" r="1.1"/><circle cx="129.7" cy="326.0" r="1.1"/><circle cx="117.3" cy="317.4" r="1.1"/><circle cx="135.8" cy="323.2" r="1.1"/><circle cx="124.8" cy="317.3" r="1.1"/><circle cx="134.4" cy="322.3" r="1.1"/><circle cx="116.6" cy="318.1" r="1.1"/><circle cx="117.6" cy="323.3" r="1.1"/><circle cx="118.4" cy="320.5" r="1.1"/><circle cx="134.2" cy="323.3" r="1.1"/><circle cx="124.4" cy="319.5" r="1.1"/><circle cx="132.9" cy="317.7" r="1.1"/><circle cx="129.9" cy="318.7" r="1.1"/><circle cx="118.2" cy="319.6" r="1.1"/><circle cx="123.5" cy="318.6" r="1.1"/><circle cx="122.9" cy="318.9" r="1.1"/><circle cx="125.2" cy="322.2" r="1.1"/><circle cx="131.1" cy="321.2" r="1.1"/><circle cx="118.1" cy="324.9" r="1.1"/><circle cx="134.4" cy="321.8" r="1.1"/><circle cx="125.7" cy="322.2" r="1.1"/><circle cx="123.5" cy="323.8" r="1.1"/><circle cx="130.0" cy="325.2" r="1.1"/><circle cx="121.8" cy="322.6" r="1.1"/><circle cx="130.3" cy="317.3" r="1.1"/><circle cx="124.5" cy="321.4" r="1.1"/><circle cx="125.7" cy="317.3" r="1.1"/><circle cx="120.1" cy="322.8" r="1.1"/><circle cx="120.4" cy="317.6" r="1.1"/><circle cx="133.2" cy="322.2" r="1.1"/><circle cx="127.6" cy="318.4" r="1.1"/><circle cx="124.6" cy="325.2" r="1.1"/><circle cx="131.5" cy="317.9" r="1.1"/><circle cx="134.1" cy="323.3" r="1.1"/><circle cx="119.5" cy="323.7" r="1.1"/><circle cx="135.8" cy="319.6" r="1.1"/><circle cx="116.7" cy="322.7" r="1.1"/><circle cx="128.4" cy="320.2" r="1.1"/><circle cx="121.6" cy="319.5" r="1.1"/><circle cx="121.3" cy="319.5" r="1.1"/><circle cx="126.0" cy="317.1" r="1.1"/><circle cx="128.2" cy="323.5" r="1.1"/><circle cx="124.9" cy="317.7" r="1.1"/><circle cx="130.3" cy="318.9" r="1.1"/><circle cx="134.9" cy="317.8" r="1.1"/><circle cx="119.7" cy="324.7" r="1.1"/><circle cx="121.1" cy="322.1" r="1.1"/><circle cx="128.3" cy="321.5" r="1.1"/><circle cx="124.4" cy="322.6" r="1.1"/><circle cx="122.6" cy="324.7" r="1.1"/><circle cx="126.2" cy="323.0" r="1.1"/><circle cx="130.0" cy="321.9" r="1.1"/><circle cx="134.1" cy="320.0" r="1.1"/><circle cx="134.7" cy="322.0" r="1.1"/><circle cx="132.3" cy="326.5" r="1.1"/><circle cx="123.2" cy="322.5" r="1.1"/><circle cx="133.6" cy="321.6" r="1.1"/><circle cx="130.2" cy="325.5" r="1.1"/><circle cx="119.8" cy="317.5" r="1.1"/><circle cx="134.9" cy="317.6" r="1.1"/><circle cx="121.2" cy="324.6" r="1.1"/><circle cx="129.7" cy="326.0" r="1.1"/><circle cx="129.9" cy="317.5" r="1.1"/><circle cx="134.1" cy="317.2" r="1.1"/><circle cx="129.4" cy="317.1" r="1.1"/><circle cx="135.5" cy="322.5" r="1.1"/><circle cx="117.6" cy="318.3" r="1.1"/><circle cx="117.2" cy="322.4" r="1.1"/><circle cx="120.2" cy="323.4" r="1.1"/><circle cx="127.6" cy="317.1" r="1.1"/><circle cx="124.7" cy="325.3" r="1.1"/><circle cx="118.1" cy="319.4" r="1.1"/><circle cx="120.4" cy="322.3" r="1.1"/><circle cx="127.7" cy="320.4" r="1.1"/><circle cx="124.3" cy="320.3" r="1.1"/><circle cx="131.3" cy="320.9" r="1.1"/><circle cx="125.5" cy="317.0" r="1.1"/><circle cx="133.5" cy="321.1" r="1.1"/><circle cx="131.2" cy="319.5" r="1.1"/><circle cx="126.0" cy="320.4" r="1.1"/><circle cx="123.4" cy="318.6" r="1.1"/><circle cx="120.6" cy="320.2" r="1.1"/><circle cx="122.1" cy="323.7" r="1.1"/><circle cx="123.3" cy="326.4" r="1.1"/><circle cx="123.5" cy="318.9" r="1.1"/><circle cx="119.9" cy="325.3" r="1.1"/><circle cx="125.6" cy="322.9" r="1.1"/><circle cx="118.6" cy="318.0" r="1.1"/><circle cx="133.3" cy="317.1" r="1.1"/><circle cx="127.1" cy="325.5" r="1.1"/><circle cx="174.7" cy="325.7" r="1.1"/><circle cx="172.3" cy="326.0" r="1.1"/><circle cx="182.9" cy="322.5" r="1.1"/><circle cx="183.9" cy="326.4" r="1.1"/><circle cx="187.6" cy="319.2" r="1.1"/><circle cx="179.9" cy="319.8" r="1.1"/><circle cx="176.3" cy="321.3" r="1.1"/><circle cx="176.4" cy="321.9" r="1.1"/><circle cx="174.2" cy="324.9" r="1.1"/><circle cx="182.5" cy="321.3" r="1.1"/><circle cx="188.5" cy="317.5" r="1.1"/><circle cx="171.8" cy="323.7" r="1.1"/><circle cx="177.7" cy="319.1" r="1.1"/><circle cx="177.0" cy="325.5" r="1.1"/><circle cx="171.8" cy="319.0" r="1.1"/><circle cx="181.7" cy="319.8" r="1.1"/><circle cx="189.3" cy="318.3" r="1.1"/><circle cx="175.6" cy="319.9" r="1.1"/><circle cx="184.3" cy="322.8" r="1.1"/><circle cx="187.7" cy="319.6" r="1.1"/><circle cx="175.5" cy="317.5" r="1.1"/><circle cx="188.0" cy="322.6" r="1.1"/><circle cx="184.7" cy="324.0" r="1.1"/><circle cx="182.7" cy="318.0" r="1.1"/><circle cx="174.0" cy="321.1" r="1.1"/><circle cx="175.6" cy="317.6" r="1.1"/><circle cx="172.2" cy="317.2" r="1.1"/><circle cx="187.6" cy="320.6" r="1.1"/><circle cx="185.9" cy="319.7" r="1.1"/><circle cx="171.9" cy="325.4" r="1.1"/><circle cx="180.5" cy="317.1" r="1.1"/><circle cx="174.3" cy="323.2" r="1.1"/><circle cx="185.1" cy="324.0" r="1.1"/><circle cx="181.3" cy="321.0" r="1.1"/><circle cx="188.5" cy="321.8" r="1.1"/><circle cx="184.3" cy="319.4" r="1.1"/><circle cx="172.2" cy="319.4" r="1.1"/><circle cx="177.4" cy="317.5" r="1.1"/><circle cx="181.4" cy="325.7" r="1.1"/><circle cx="187.9" cy="317.3" r="1.1"/><circle cx="177.4" cy="318.3" r="1.1"/><circle cx="173.8" cy="323.9" r="1.1"/><circle cx="175.7" cy="321.4" r="1.1"/><circle cx="175.0" cy="321.9" r="1.1"/><circle cx="173.2" cy="319.8" r="1.1"/><circle cx="176.9" cy="318.5" r="1.1"/><circle cx="175.0" cy="324.7" r="1.1"/><circle cx="180.1" cy="318.2" r="1.1"/><circle cx="187.5" cy="319.8" r="1.1"/><circle cx="188.7" cy="324.2" r="1.1"/><circle cx="173.3" cy="319.9" r="1.1"/><circle cx="181.2" cy="326.1" r="1.1"/><circle cx="183.3" cy="318.7" r="1.1"/><circle cx="173.2" cy="322.1" r="1.1"/><circle cx="180.5" cy="322.2" r="1.1"/><circle cx="174.1" cy="321.8" r="1.1"/><circle cx="177.3" cy="324.4" r="1.1"/><circle cx="176.5" cy="317.4" r="1.1"/><circle cx="186.0" cy="322.2" r="1.1"/><circle cx="174.7" cy="324.6" r="1.1"/><circle cx="180.7" cy="317.5" r="1.1"/><circle cx="181.6" cy="322.2" r="1.1"/><circle cx="176.6" cy="321.2" r="1.1"/><circle cx="188.2" cy="320.9" r="1.1"/><circle cx="176.6" cy="322.2" r="1.1"/><circle cx="176.5" cy="323.0" r="1.1"/><circle cx="183.6" cy="323.7" r="1.1"/><circle cx="179.7" cy="325.6" r="1.1"/><circle cx="184.3" cy="323.3" r="1.1"/><circle cx="173.2" cy="326.6" r="1.1"/><circle cx="173.1" cy="323.4" r="1.1"/><circle cx="184.5" cy="319.6" r="1.1"/><circle cx="177.7" cy="318.4" r="1.1"/><circle cx="186.8" cy="317.7" r="1.1"/><circle cx="174.7" cy="319.6" r="1.1"/><circle cx="174.9" cy="318.1" r="1.1"/><circle cx="186.9" cy="323.6" r="1.1"/><circle cx="177.2" cy="323.6" r="1.1"/><circle cx="172.3" cy="322.9" r="1.1"/><circle cx="174.5" cy="320.7" r="1.1"/><circle cx="185.1" cy="321.4" r="1.1"/><circle cx="175.3" cy="319.5" r="1.1"/><circle cx="181.0" cy="325.8" r="1.1"/><circle cx="186.4" cy="317.1" r="1.1"/><circle cx="182.0" cy="320.1" r="1.1"/><circle cx="184.8" cy="322.5" r="1.1"/><circle cx="189.2" cy="318.7" r="1.1"/><circle cx="176.0" cy="325.2" r="1.1"/><circle cx="187.2" cy="321.6" r="1.1"/><circle cx="180.9" cy="320.5" r="1.1"/><circle cx="174.1" cy="317.6" r="1.1"/><circle cx="172.8" cy="319.7" r="1.1"/><circle cx="176.6" cy="322.7" r="1.1"/><circle cx="172.9" cy="319.7" r="1.1"/><circle cx="185.2" cy="317.4" r="1.1"/><circle cx="181.0" cy="322.6" r="1.1"/><circle cx="171.1" cy="319.9" r="1.1"/><circle cx="187.2" cy="325.1" r="1.1"/><circle cx="181.8" cy="323.6" r="1.1"/><circle cx="178.8" cy="323.9" r="1.1"/><circle cx="172.9" cy="325.5" r="1.1"/><circle cx="179.3" cy="324.8" r="1.1"/><circle cx="188.0" cy="320.2" r="1.1"/><circle cx="181.5" cy="322.5" r="1.1"/><circle cx="179.1" cy="319.5" r="1.1"/><circle cx="182.0" cy="318.9" r="1.1"/><circle cx="180.9" cy="319.0" r="1.1"/><circle cx="182.3" cy="318.1" r="1.1"/><circle cx="174.1" cy="319.3" r="1.1"/><circle cx="173.1" cy="319.1" r="1.1"/><circle cx="170.4" cy="323.4" r="1.1"/><circle cx="186.3" cy="319.4" r="1.1"/><circle cx="170.3" cy="317.4" r="1.1"/><circle cx="175.2" cy="321.0" r="1.1"/><circle cx="181.6" cy="318.9" r="1.1"/><circle cx="179.9" cy="323.6" r="1.1"/><circle cx="187.7" cy="319.1" r="1.1"/><circle cx="174.3" cy="322.3" r="1.1"/><circle cx="172.4" cy="318.7" r="1.1"/><circle cx="173.3" cy="321.6" r="1.1"/><circle cx="179.9" cy="325.3" r="1.1"/><circle cx="175.8" cy="319.9" r="1.1"/><circle cx="179.0" cy="322.1" r="1.1"/><circle cx="183.5" cy="321.2" r="1.1"/><circle cx="176.4" cy="317.7" r="1.1"/><circle cx="183.1" cy="317.2" r="1.1"/><circle cx="170.6" cy="325.1" r="1.1"/><circle cx="180.8" cy="320.3" r="1.1"/><circle cx="237.3" cy="325.1" r="1.1"/><circle cx="232.0" cy="320.8" r="1.1"/><circle cx="240.2" cy="324.8" r="1.1"/><circle cx="227.7" cy="318.1" r="1.1"/><circle cx="233.3" cy="319.7" r="1.1"/><circle cx="234.6" cy="318.2" r="1.1"/><circle cx="239.3" cy="324.1" r="1.1"/><circle cx="224.5" cy="321.5" r="1.1"/><circle cx="231.0" cy="323.3" r="1.1"/><circle cx="233.2" cy="319.3" r="1.1"/><circle cx="235.4" cy="324.0" r="1.1"/><circle cx="226.7" cy="326.5" r="1.1"/><circle cx="234.5" cy="317.7" r="1.1"/><circle cx="237.4" cy="320.1" r="1.1"/><circle cx="238.2" cy="325.3" r="1.1"/><circle cx="228.3" cy="325.2" r="1.1"/><circle cx="232.5" cy="325.4" r="1.1"/><circle cx="229.7" cy="319.2" r="1.1"/><circle cx="231.5" cy="322.4" r="1.1"/><circle cx="231.0" cy="317.8" r="1.1"/><circle cx="242.3" cy="321.1" r="1.1"/><circle cx="224.2" cy="322.5" r="1.1"/><circle cx="242.3" cy="319.5" r="1.1"/><circle cx="224.6" cy="321.0" r="1.1"/><circle cx="225.5" cy="320.5" r="1.1"/><circle cx="227.9" cy="317.8" r="1.1"/><circle cx="229.5" cy="317.6" r="1.1"/><circle cx="240.6" cy="324.5" r="1.1"/><circle cx="240.3" cy="317.0" r="1.1"/><circle cx="242.1" cy="326.5" r="1.1"/><circle cx="231.5" cy="325.6" r="1.1"/><circle cx="224.3" cy="326.5" r="1.1"/><circle cx="236.1" cy="324.5" r="1.1"/><circle cx="241.4" cy="317.0" r="1.1"/><circle cx="226.0" cy="318.1" r="1.1"/><circle cx="240.0" cy="320.0" r="1.1"/><circle cx="224.0" cy="318.7" r="1.1"/><circle cx="238.2" cy="317.6" r="1.1"/><circle cx="233.5" cy="325.8" r="1.1"/><circle cx="241.6" cy="325.7" r="1.1"/><circle cx="240.9" cy="324.4" r="1.1"/><circle cx="224.9" cy="319.4" r="1.1"/><circle cx="233.6" cy="325.2" r="1.1"/><circle cx="228.6" cy="324.9" r="1.1"/><circle cx="232.5" cy="320.1" r="1.1"/><circle cx="225.2" cy="318.2" r="1.1"/><circle cx="230.9" cy="318.3" r="1.1"/><circle cx="231.9" cy="320.9" r="1.1"/><circle cx="224.0" cy="325.0" r="1.1"/><circle cx="233.2" cy="317.7" r="1.1"/><circle cx="241.3" cy="321.1" r="1.1"/><circle cx="225.1" cy="320.4" r="1.1"/><circle cx="242.3" cy="325.6" r="1.1"/><circle cx="233.4" cy="318.5" r="1.1"/><circle cx="228.0" cy="323.3" r="1.1"/><circle cx="242.8" cy="320.1" r="1.1"/><circle cx="233.1" cy="323.2" r="1.1"/><circle cx="232.4" cy="324.9" r="1.1"/><circle cx="231.3" cy="324.9" r="1.1"/><circle cx="241.0" cy="325.1" r="1.1"/><circle cx="226.5" cy="319.8" r="1.1"/><circle cx="228.0" cy="319.6" r="1.1"/><circle cx="229.4" cy="318.2" r="1.1"/><circle cx="225.2" cy="319.4" r="1.1"/><circle cx="240.3" cy="318.1" r="1.1"/><circle cx="233.4" cy="324.5" r="1.1"/><circle cx="235.6" cy="317.4" r="1.1"/><circle cx="241.1" cy="318.8" r="1.1"/><circle cx="233.5" cy="324.6" r="1.1"/><circle cx="229.3" cy="324.4" r="1.1"/><circle cx="234.3" cy="326.3" r="1.1"/><circle cx="233.7" cy="320.7" r="1.1"/><circle cx="229.7" cy="317.4" r="1.1"/><circle cx="228.4" cy="324.7" r="1.1"/><circle cx="230.9" cy="319.7" r="1.1"/><circle cx="238.2" cy="324.4" r="1.1"/><circle cx="227.2" cy="317.2" r="1.1"/><circle cx="243.3" cy="317.3" r="1.1"/><circle cx="228.5" cy="322.7" r="1.1"/><circle cx="229.2" cy="323.6" r="1.1"/><circle cx="226.3" cy="322.4" r="1.1"/><circle cx="231.6" cy="322.1" r="1.1"/><circle cx="231.2" cy="322.7" r="1.1"/><circle cx="237.2" cy="318.2" r="1.1"/><circle cx="241.3" cy="317.6" r="1.1"/><circle cx="228.8" cy="320.3" r="1.1"/><circle cx="239.7" cy="322.2" r="1.1"/><circle cx="229.9" cy="319.4" r="1.1"/><circle cx="231.8" cy="318.7" r="1.1"/><circle cx="226.4" cy="321.3" r="1.1"/><circle cx="241.3" cy="320.9" r="1.1"/><circle cx="231.2" cy="319.6" r="1.1"/><circle cx="237.5" cy="325.9" r="1.1"/><circle cx="224.5" cy="326.0" r="1.1"/><circle cx="237.5" cy="317.4" r="1.1"/><circle cx="228.3" cy="321.6" r="1.1"/><circle cx="232.7" cy="319.3" r="1.1"/><circle cx="237.0" cy="320.2" r="1.1"/><circle cx="227.3" cy="317.3" r="1.1"/><circle cx="234.2" cy="317.8" r="1.1"/><circle cx="240.2" cy="317.3" r="1.1"/><circle cx="227.1" cy="318.2" r="1.1"/><circle cx="233.0" cy="323.2" r="1.1"/><circle cx="227.5" cy="317.7" r="1.1"/><circle cx="226.7" cy="325.5" r="1.1"/><circle cx="233.5" cy="324.7" r="1.1"/><circle cx="232.8" cy="319.6" r="1.1"/><circle cx="236.4" cy="323.6" r="1.1"/><circle cx="240.6" cy="326.1" r="1.1"/><circle cx="237.7" cy="318.1" r="1.1"/><circle cx="230.5" cy="322.4" r="1.1"/><circle cx="233.4" cy="321.5" r="1.1"/><circle cx="237.0" cy="320.0" r="1.1"/><circle cx="240.2" cy="319.8" r="1.1"/><circle cx="237.2" cy="317.8" r="1.1"/><circle cx="233.7" cy="323.2" r="1.1"/><circle cx="226.5" cy="318.9" r="1.1"/><circle cx="240.8" cy="321.0" r="1.1"/><circle cx="229.4" cy="325.9" r="1.1"/><circle cx="231.8" cy="320.3" r="1.1"/><circle cx="241.1" cy="320.0" r="1.1"/><circle cx="228.0" cy="325.9" r="1.1"/><circle cx="241.7" cy="322.6" r="1.1"/><circle cx="228.4" cy="322.5" r="1.1"/><circle cx="225.6" cy="319.1" r="1.1"/><circle cx="233.9" cy="323.1" r="1.1"/><circle cx="239.4" cy="320.6" r="1.1"/><circle cx="231.8" cy="322.2" r="1.1"/><circle cx="285.4" cy="322.4" r="1.1"/><circle cx="279.3" cy="325.8" r="1.1"/><circle cx="294.7" cy="324.5" r="1.1"/><circle cx="291.1" cy="325.2" r="1.1"/><circle cx="296.3" cy="317.2" r="1.1"/><circle cx="283.6" cy="317.1" r="1.1"/><circle cx="283.2" cy="323.1" r="1.1"/><circle cx="280.3" cy="320.2" r="1.1"/><circle cx="283.6" cy="325.4" r="1.1"/><circle cx="284.0" cy="320.8" r="1.1"/><circle cx="281.3" cy="324.1" r="1.1"/><circle cx="282.8" cy="319.4" r="1.1"/><circle cx="283.4" cy="323.0" r="1.1"/><circle cx="294.3" cy="325.6" r="1.1"/><circle cx="286.4" cy="325.3" r="1.1"/><circle cx="293.6" cy="320.5" r="1.1"/><circle cx="278.7" cy="321.6" r="1.1"/><circle cx="281.4" cy="322.1" r="1.1"/><circle cx="296.2" cy="320.3" r="1.1"/><circle cx="278.7" cy="321.6" r="1.1"/><circle cx="279.0" cy="326.2" r="1.1"/><circle cx="287.7" cy="325.4" r="1.1"/><circle cx="283.3" cy="320.0" r="1.1"/><circle cx="281.5" cy="323.6" r="1.1"/><circle cx="289.5" cy="326.1" r="1.1"/><circle cx="289.5" cy="320.5" r="1.1"/><circle cx="281.3" cy="325.1" r="1.1"/><circle cx="288.2" cy="324.6" r="1.1"/><circle cx="286.5" cy="325.5" r="1.1"/><circle cx="294.1" cy="317.8" r="1.1"/><circle cx="279.0" cy="325.9" r="1.1"/><circle cx="282.2" cy="326.4" r="1.1"/><circle cx="288.7" cy="319.3" r="1.1"/><circle cx="278.3" cy="323.1" r="1.1"/><circle cx="294.1" cy="317.9" r="1.1"/><circle cx="296.5" cy="322.8" r="1.1"/><circle cx="284.1" cy="323.8" r="1.1"/><circle cx="292.7" cy="324.1" r="1.1"/><circle cx="282.5" cy="325.2" r="1.1"/><circle cx="296.1" cy="319.8" r="1.1"/><circle cx="281.8" cy="318.1" r="1.1"/><circle cx="277.8" cy="324.8" r="1.1"/><circle cx="279.0" cy="317.2" r="1.1"/><circle cx="286.6" cy="319.2" r="1.1"/><circle cx="278.4" cy="319.3" r="1.1"/><circle cx="296.7" cy="324.4" r="1.1"/><circle cx="289.9" cy="321.2" r="1.1"/><circle cx="288.7" cy="325.0" r="1.1"/><circle cx="289.8" cy="323.4" r="1.1"/><circle cx="285.8" cy="325.1" r="1.1"/><circle cx="294.9" cy="324.5" r="1.1"/><circle cx="291.5" cy="325.4" r="1.1"/><circle cx="286.0" cy="319.6" r="1.1"/><circle cx="283.2" cy="320.4" r="1.1"/><circle cx="280.5" cy="323.0" r="1.1"/><circle cx="283.8" cy="322.6" r="1.1"/><circle cx="284.6" cy="324.5" r="1.1"/><circle cx="279.3" cy="324.8" r="1.1"/><circle cx="295.6" cy="319.9" r="1.1"/><circle cx="282.7" cy="318.2" r="1.1"/><circle cx="288.2" cy="324.1" r="1.1"/><circle cx="279.0" cy="323.6" r="1.1"/><circle cx="288.4" cy="319.6" r="1.1"/><circle cx="290.2" cy="317.5" r="1.1"/><circle cx="279.2" cy="317.2" r="1.1"/><circle cx="296.6" cy="319.4" r="1.1"/><circle cx="280.9" cy="319.6" r="1.1"/><circle cx="282.8" cy="319.0" r="1.1"/><circle cx="292.0" cy="317.5" r="1.1"/><circle cx="284.2" cy="318.6" r="1.1"/><circle cx="294.7" cy="320.3" r="1.1"/><circle cx="282.3" cy="317.9" r="1.1"/><circle cx="283.8" cy="319.0" r="1.1"/><circle cx="291.1" cy="321.2" r="1.1"/><circle cx="294.4" cy="325.1" r="1.1"/><circle cx="294.8" cy="325.4" r="1.1"/><circle cx="283.3" cy="320.9" r="1.1"/><circle cx="288.0" cy="318.2" r="1.1"/><circle cx="285.7" cy="319.6" r="1.1"/><circle cx="290.8" cy="323.5" r="1.1"/><circle cx="282.1" cy="320.9" r="1.1"/><circle cx="294.0" cy="322.5" r="1.1"/><circle cx="291.5" cy="324.1" r="1.1"/><circle cx="281.1" cy="323.3" r="1.1"/><circle cx="283.8" cy="325.2" r="1.1"/><circle cx="284.2" cy="317.8" r="1.1"/><circle cx="295.7" cy="319.8" r="1.1"/><circle cx="286.5" cy="317.3" r="1.1"/><circle cx="289.7" cy="322.0" r="1.1"/><circle cx="295.8" cy="322.9" r="1.1"/><circle cx="285.4" cy="319.4" r="1.1"/><circle cx="296.1" cy="317.5" r="1.1"/><circle cx="283.4" cy="321.4" r="1.1"/><circle cx="277.9" cy="318.6" r="1.1"/><circle cx="279.7" cy="318.9" r="1.1"/><circle cx="291.1" cy="320.7" r="1.1"/><circle cx="285.1" cy="326.1" r="1.1"/><circle cx="293.9" cy="320.4" r="1.1"/><circle cx="288.0" cy="323.8" r="1.1"/><circle cx="291.0" cy="320.6" r="1.1"/><circle cx="284.5" cy="320.9" r="1.1"/><circle cx="289.1" cy="318.3" r="1.1"/><circle cx="291.2" cy="318.8" r="1.1"/><circle cx="285.0" cy="324.4" r="1.1"/><circle cx="287.2" cy="321.1" r="1.1"/><circle cx="294.1" cy="319.7" r="1.1"/><circle cx="295.7" cy="326.5" r="1.1"/><circle cx="284.5" cy="325.4" r="1.1"/><circle cx="279.0" cy="319.5" r="1.1"/><circle cx="294.0" cy="321.2" r="1.1"/><circle cx="286.4" cy="322.4" r="1.1"/><circle cx="296.5" cy="318.6" r="1.1"/><circle cx="292.5" cy="321.1" r="1.1"/><circle cx="284.8" cy="319.7" r="1.1"/><circle cx="294.2" cy="324.8" r="1.1"/><circle cx="288.3" cy="317.9" r="1.1"/><circle cx="291.5" cy="326.5" r="1.1"/><circle cx="294.9" cy="319.3" r="1.1"/><circle cx="289.0" cy="320.2" r="1.1"/><circle cx="296.1" cy="317.7" r="1.1"/><circle cx="285.4" cy="325.8" r="1.1"/><circle cx="285.0" cy="324.9" r="1.1"/><circle cx="290.1" cy="317.6" r="1.1"/><circle cx="285.6" cy="322.1" r="1.1"/><circle cx="291.4" cy="320.7" r="1.1"/><circle cx="288.0" cy="322.8" r="1.1"/><circle cx="292.1" cy="320.2" r="1.1"/><circle cx="293.7" cy="326.2" r="1.1"/>
</g>
<rect x="40.2" y="17.8" width="279.30" height="323.20" fill="none" stroke="#666" stroke-width="1.2" stroke-linejoin="round"/>
<line x1="34" y1="322.09" x2="40.2" y2="322.09" stroke="#111" stroke-width="1.1"/>
<text transform="translate(32.9,325.59) rotate(0.1)" font-size="9.5" text-anchor="end">1</text>
<line x1="34" y1="274.60" x2="40.2" y2="274.60" stroke="#111" stroke-width="1.1"/>
<text transform="translate(32.9,278.1) rotate(0.1)" font-size="9.5" text-anchor="end">2</text>
<line x1="34" y1="227.12" x2="40.2" y2="227.12" stroke="#111" stroke-width="1.1"/>
<text transform="translate(32.9,230.62) rotate(0.1)" font-size="9.5" text-anchor="end">3</text>
<line x1="34" y1="179.63" x2="40.2" y2="179.63" stroke="#111" stroke-width="1.1"/>
<text transform="translate(32.9,183.13) rotate(0.1)" font-size="9.5" text-anchor="end">4</text>
<line x1="34" y1="132.14" x2="40.2" y2="132.14" stroke="#111" stroke-width="1.1"/>
<text transform="translate(32.9,135.64) rotate(0.1)" font-size="9.5" text-anchor="end">5</text>
<line x1="34" y1="84.65" x2="40.2" y2="84.65" stroke="#111" stroke-width="1.1"/>
<text transform="translate(32.9,88.15) rotate(0.1)" font-size="9.5" text-anchor="end">6</text>
<line x1="34" y1="37.17" x2="40.2" y2="37.17" stroke="#111" stroke-width="1.1"/>
<text transform="translate(32.9,40.67) rotate(0.1)" font-size="9.5" text-anchor="end">7</text>
<line x1="72" y1="341.0" x2="72" y2="347" stroke="#111" stroke-width="1.1"/>
<text transform="translate(72,355.8) rotate(0.1)" font-size="9.7" text-anchor="middle">control</text>
<line x1="125.75" y1="341.0" x2="125.75" y2="347" stroke="#111" stroke-width="1.1"/>
<text transform="translate(125.75,355.8) rotate(0.1)" font-size="9.7" text-anchor="middle">strategic</text>
<line x1="179.5" y1="341.0" x2="179.5" y2="347" stroke="#111" stroke-width="1.1"/>
<text transform="translate(179.5,355.8) rotate(0.1)" font-size="9.7" text-anchor="middle">leadership</text>
<line x1="233.25" y1="341.0" x2="233.25" y2="347" stroke="#111" stroke-width="1.1"/>
<text transform="translate(233.25,355.8) rotate(0.1)" font-size="9.7" text-anchor="middle">science</text>
<line x1="287" y1="341.0" x2="287" y2="347" stroke="#111" stroke-width="1.1"/>
<text transform="translate(287,355.8) rotate(0.1)" font-size="9.7" text-anchor="middle">crisis</text>
<text transform="translate(22.6,179.2) rotate(-89.9)" font-size="12" text-anchor="middle">Vote intention (&gt; more likely)</text>
<line x1="72" y1="184" x2="72" y2="201.7" stroke="#000" stroke-width="2"/>
<circle cx="72" cy="193.0" r="2.85" fill="#1c1c1c"/>
<line x1="125.75" y1="211.9" x2="125.75" y2="227.7" stroke="#000" stroke-width="2"/>
<circle cx="125.75" cy="219.9" r="2.85" fill="#1c1c1c"/>
<line x1="179.5" y1="211.2" x2="179.5" y2="225.6" stroke="#000" stroke-width="2"/>
<circle cx="179.5" cy="218.8" r="2.85" fill="#1c1c1c"/>
<line x1="233.25" y1="209.4" x2="233.25" y2="224.6" stroke="#000" stroke-width="2"/>
<circle cx="233.25" cy="217.2" r="2.85" fill="#1c1c1c"/>
<line x1="287" y1="215.1" x2="287" y2="229.8" stroke="#000" stroke-width="2"/>
<circle cx="287" cy="222.5" r="2.85" fill="#1c1c1c"/>
<line x1="39.7" y1="193.2" x2="319.5" y2="193.2" stroke="#9a9a9a" stroke-width="1" stroke-dasharray="3.25 3.16"/>
<text transform="translate(327.3,17.45) rotate(0.1)" font-size="16.6">(B)</text>
<rect x="356.9" y="17.8" width="286.50" height="310.00" fill="none" stroke="#666" stroke-width="1.2" stroke-linejoin="round"/>
<line x1="570.4" y1="17.8" x2="570.4" y2="327.8" stroke="#ff3a3a" stroke-width="1.15"/>
<line x1="350.9" y1="62.08" x2="356.9" y2="62.08" stroke="#111" stroke-width="1.1"/>
<line x1="405.3" y1="62.08" x2="499.7" y2="62.08" stroke="#000" stroke-width="1.3"/>
<line x1="413" y1="62.08" x2="491.8" y2="62.08" stroke="#000" stroke-width="3"/>
<circle cx="452.5" cy="62.08" r="2.4" fill="#fff" stroke="#000" stroke-width="1.2"/>
<text transform="translate(449.9,58.48) rotate(0.1)" font-size="10.5" text-anchor="middle">Change – Strategic</text>
<line x1="350.9" y1="135.94" x2="356.9" y2="135.94" stroke="#111" stroke-width="1.1"/>
<line x1="414.2" y1="135.94" x2="506.7" y2="135.94" stroke="#000" stroke-width="1.3"/>
<line x1="420.8" y1="135.94" x2="499.2" y2="135.94" stroke="#000" stroke-width="3"/>
<circle cx="460" cy="135.94" r="2.4" fill="#fff" stroke="#000" stroke-width="1.2"/>
<text transform="translate(459.7,132.34) rotate(0.1)" font-size="10.5" text-anchor="middle">Change – Leader</text>
<line x1="350.9" y1="209.8" x2="356.9" y2="209.8" stroke="#111" stroke-width="1.1"/>
<line x1="421.7" y1="209.8" x2="515.3" y2="209.8" stroke="#000" stroke-width="1.3"/>
<line x1="428.7" y1="209.8" x2="508" y2="209.8" stroke="#000" stroke-width="3"/>
<circle cx="468" cy="209.8" r="2.4" fill="#fff" stroke="#000" stroke-width="1.2"/>
<text transform="translate(469.4,206.2) rotate(0.1)" font-size="10.5" text-anchor="middle">Change – Science</text>
<line x1="350.9" y1="283.66" x2="356.9" y2="283.66" stroke="#111" stroke-width="1.1"/>
<line x1="399.2" y1="283.66" x2="491.7" y2="283.66" stroke="#000" stroke-width="1.3"/>
<line x1="406.3" y1="283.66" x2="483.7" y2="283.66" stroke="#000" stroke-width="3"/>
<circle cx="445.5" cy="283.66" r="2.4" fill="#fff" stroke="#000" stroke-width="1.2"/>
<text transform="translate(449.4,280.06) rotate(0.1)" font-size="10.5" text-anchor="middle">Change – Crisis</text>
<line x1="410" y1="327.8" x2="410" y2="333.5" stroke="#111" stroke-width="1.1"/>
<text transform="translate(410,342.3) rotate(0.1)" font-size="9.6" text-anchor="middle">−0.8</text>
<line x1="490" y1="327.8" x2="490" y2="333.5" stroke="#111" stroke-width="1.1"/>
<text transform="translate(490,342.3) rotate(0.1)" font-size="9.6" text-anchor="middle">−0.4</text>
<line x1="570.4" y1="327.8" x2="570.4" y2="333.5" stroke="#111" stroke-width="1.1"/>
<text transform="translate(570.4,342.3) rotate(0.1)" font-size="9.6" text-anchor="middle">0.0</text>
<text transform="translate(500.3,354.9) rotate(0.1)" font-size="11.4" text-anchor="middle">ATE</text>
<text transform="translate(324,375.9) rotate(0.05)" font-size="15" text-anchor="middle">Covid: Children Vaccination</text>
</svg></body></html>
